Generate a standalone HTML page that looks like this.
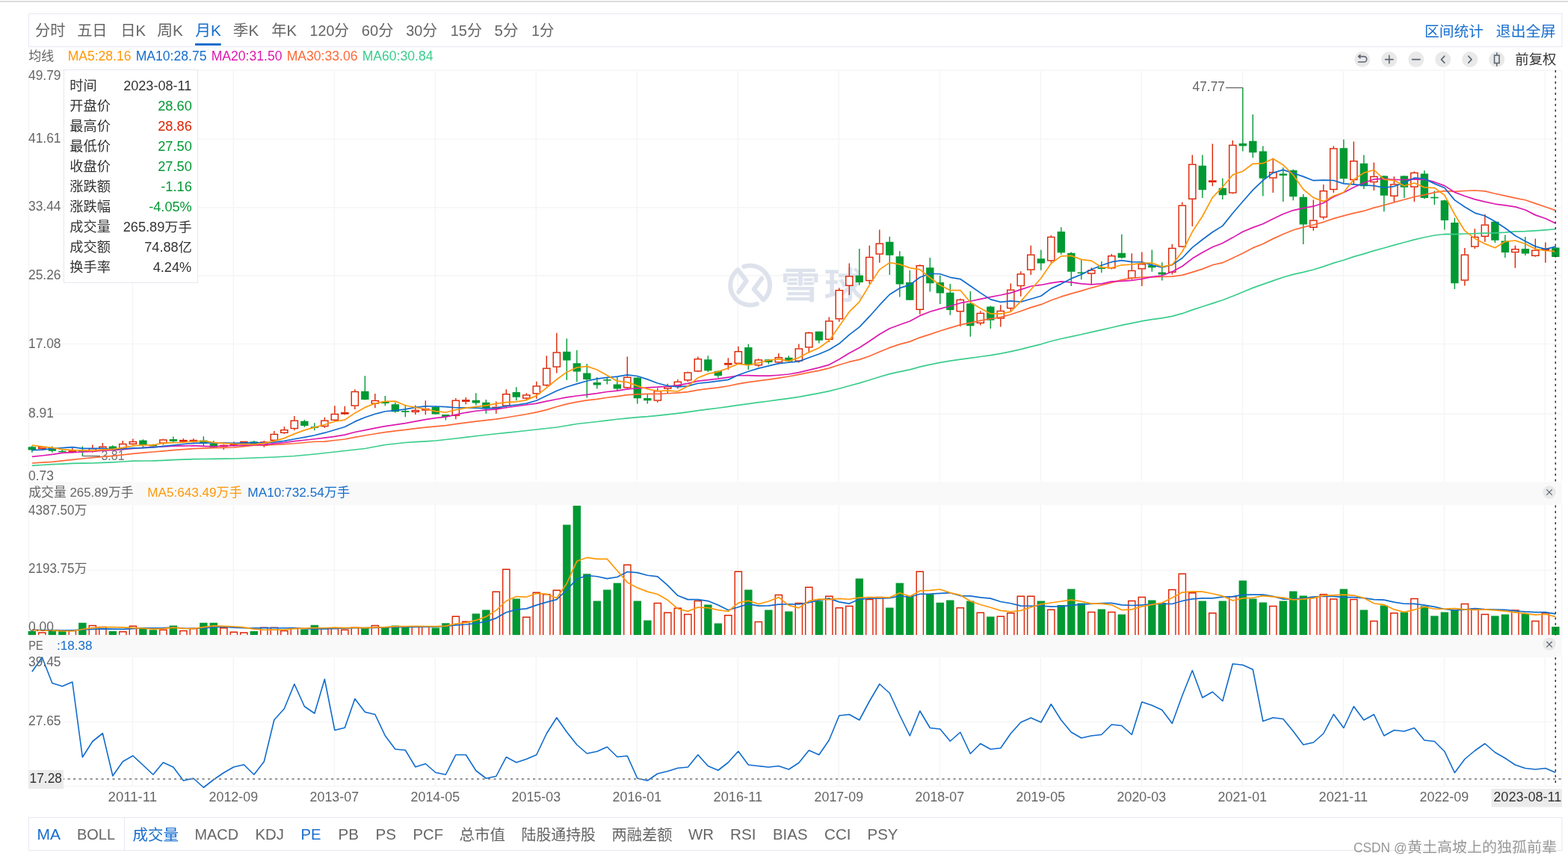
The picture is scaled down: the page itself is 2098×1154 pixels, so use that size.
<!DOCTYPE html>
<html lang="zh-CN"><head><meta charset="utf-8"><title>月K</title>
<style>
html,body{margin:0;padding:0;background:#fff;}
body{width:2098px;height:1154px;position:relative;overflow:hidden;font-family:"Liberation Sans","Noto Sans CJK SC",sans-serif;}
svg text{font-family:"Liberation Sans","Noto Sans CJK SC",sans-serif;}
</style></head><body>
<svg width="2098" height="1154" viewBox="0 0 2098 1154" style="position:absolute;left:0;top:0">
<rect x="38" y="644.9" width="2052" height="31.3" fill="#f9f9f9"/>
<rect x="38" y="851" width="2052" height="29" fill="#f9f9f9"/>
<path d="M38 94.3 H2090 M38 186.25 H2090 M38 277.75 H2090 M38 369 H2090 M38 460.5 H2090 M38 554.1 H2090 M38 763.5 H2090 M38 850.5 H2090 M38 966.5 H2090 M38 1052.5 H2090 M177.35 94 V644 M177.35 676 V850 M177.35 880 V1052 M312.35 94 V644 M312.35 676 V850 M312.35 880 V1052 M447.35 94 V644 M447.35 676 V850 M447.35 880 V1052 M582.35 94 V644 M582.35 676 V850 M582.35 880 V1052 M717.35 94 V644 M717.35 676 V850 M717.35 880 V1052 M852.35 94 V644 M852.35 676 V850 M852.35 880 V1052 M987.35 94 V644 M987.35 676 V850 M987.35 880 V1052 M1122.35 94 V644 M1122.35 676 V850 M1122.35 880 V1052 M1257.35 94 V644 M1257.35 676 V850 M1257.35 880 V1052 M1392.35 94 V644 M1392.35 676 V850 M1392.35 880 V1052 M1527.35 94 V644 M1527.35 676 V850 M1527.35 880 V1052 M1662.35 94 V644 M1662.35 676 V850 M1662.35 880 V1052 M1797.35 94 V644 M1797.35 676 V850 M1797.35 880 V1052 M1932.35 94 V644 M1932.35 676 V850 M1932.35 880 V1052 M2067.35 94 V644 M2067.35 676 V850 M2067.35 880 V1052 M38.4 94 V644 M38.4 676 V850 M38.4 880 V1052 M2089.6 94 V644 M2089.6 676 V850 M2089.6 880 V1052" stroke="#f5f5f5" stroke-width="1.5" fill="none"/>
<g fill="none" stroke="#dde2ec" stroke-width="6" stroke-linecap="round" stroke-linejoin="round"><path d="M988.3 390.8 L998.8 376.1 L987.3 361.2 A26.4 26.4 0 0 0 1012.8 406.7"/><path d="M995.3 356.9 A26.4 26.4 0 0 1 1021.5 401.4 L1008.7 387.2 L1019.2 373"/></g>
<text x="1045" y="398.8" font-size="48" font-weight="500" fill="#dde2ec" stroke="#dde2ec" stroke-width="0.7" textLength="52.5" lengthAdjust="spacingAndGlyphs" font-family="'Liberation Sans','Noto Sans CJK SC',sans-serif">雪</text><text x="1102.8" y="398.8" font-size="48" font-weight="500" fill="#dde2ec" stroke="#dde2ec" stroke-width="0.7" textLength="52.5" lengthAdjust="spacingAndGlyphs" font-family="'Liberation Sans','Noto Sans CJK SC',sans-serif">球</text>
<g><path d="M42.85 597 V605.75" stroke="#009933" stroke-width="1.4"/><rect x="37.65" y="598.25" width="10.4" height="4.25" fill="#009933"/><path d="M56.35 597.5 V598 M56.35 601.25 V602.5" stroke="#dd2200" stroke-width="1.4"/><rect x="51.75" y="598.7" width="9.2" height="1.85" fill="#fff" stroke="#dd2200" stroke-width="1.4"/><path d="M69.85 597.5 V605.75" stroke="#009933" stroke-width="1.4"/><rect x="64.65" y="599" width="10.4" height="4.75" fill="#009933"/><path d="M83.35 601.25 V605.5" stroke="#009933" stroke-width="1.4"/><rect x="78.15" y="603.75" width="10.4" height="1.6" fill="#009933"/><path d="M96.85 600 V603.23 M96.85 606.02 V606.25" stroke="#dd2200" stroke-width="1.4"/><rect x="92.25" y="603.93" width="9.2" height="1.4" fill="#fff" stroke="#dd2200" stroke-width="1.4"/><path d="M110.35 597.5 V610.75" stroke="#009933" stroke-width="1.4"/><rect x="105.15" y="603" width="10.4" height="1.6" fill="#009933"/><path d="M123.85 595.5 V600 M123.85 605 V605.75" stroke="#dd2200" stroke-width="1.4"/><rect x="119.25" y="600.7" width="9.2" height="3.6" fill="#fff" stroke="#dd2200" stroke-width="1.4"/><path d="M137.35 593 V597.5 M137.35 601.25 V602.5" stroke="#dd2200" stroke-width="1.4"/><rect x="132.75" y="598.2" width="9.2" height="2.35" fill="#fff" stroke="#dd2200" stroke-width="1.4"/><path d="M150.85 596.25 V602.5" stroke="#009933" stroke-width="1.4"/><rect x="145.65" y="597.5" width="10.4" height="4.5" fill="#009933"/><path d="M164.35 590 V593.75 M164.35 601.25 V602.5" stroke="#dd2200" stroke-width="1.4"/><rect x="159.75" y="594.45" width="9.2" height="6.1" fill="#fff" stroke="#dd2200" stroke-width="1.4"/><path d="M177.85 587.5 V590.75 M177.85 595 V595.5" stroke="#dd2200" stroke-width="1.4"/><rect x="173.25" y="591.45" width="9.2" height="2.85" fill="#fff" stroke="#dd2200" stroke-width="1.4"/><path d="M191.35 588.25 V598.75" stroke="#009933" stroke-width="1.4"/><rect x="186.15" y="589.5" width="10.4" height="6" fill="#009933"/><path d="M204.85 594.5 V599.5" stroke="#009933" stroke-width="1.4"/><rect x="199.65" y="595.75" width="10.4" height="1.75" fill="#009933"/><path d="M218.35 587.5 V588.25 M218.35 593.75 V595.5" stroke="#dd2200" stroke-width="1.4"/><rect x="213.75" y="588.95" width="9.2" height="4.1" fill="#fff" stroke="#dd2200" stroke-width="1.4"/><path d="M231.85 584.5 V592" stroke="#009933" stroke-width="1.4"/><rect x="226.65" y="588" width="10.4" height="2.75" fill="#009933"/><path d="M245.35 587 V588.85 M245.35 591.65 V592.5" stroke="#dd2200" stroke-width="1.4"/><rect x="240.75" y="589.55" width="9.2" height="1.4" fill="#fff" stroke="#dd2200" stroke-width="1.4"/><path d="M258.85 587 V588.85 M258.85 591.65 V592.5" stroke="#dd2200" stroke-width="1.4"/><rect x="254.25" y="589.55" width="9.2" height="1.4" fill="#fff" stroke="#dd2200" stroke-width="1.4"/><path d="M272.35 584.25 V597" stroke="#009933" stroke-width="1.4"/><rect x="267.15" y="589.5" width="10.4" height="4.25" fill="#009933"/><path d="M285.85 590 V600" stroke="#009933" stroke-width="1.4"/><rect x="280.65" y="593.75" width="10.4" height="5" fill="#009933"/><path d="M299.35 594.5 V595.6 M299.35 598.4 V602" stroke="#dd2200" stroke-width="1.4"/><rect x="294.75" y="596.3" width="9.2" height="1.4" fill="#fff" stroke="#dd2200" stroke-width="1.4"/><path d="M312.85 591.25 V593.6 M312.85 596.4 V597.5" stroke="#dd2200" stroke-width="1.4"/><rect x="308.25" y="594.3" width="9.2" height="1.4" fill="#fff" stroke="#dd2200" stroke-width="1.4"/><path d="M326.35 590.75 V590.73 M326.35 593.52 V593.75" stroke="#dd2200" stroke-width="1.4"/><rect x="321.75" y="591.43" width="9.2" height="1.4" fill="#fff" stroke="#dd2200" stroke-width="1.4"/><path d="M339.85 590 V596.25" stroke="#009933" stroke-width="1.4"/><rect x="334.65" y="591.25" width="10.4" height="3.75" fill="#009933"/><path d="M353.35 590 V591.25 M353.35 597 V598.75" stroke="#dd2200" stroke-width="1.4"/><rect x="348.75" y="591.95" width="9.2" height="4.35" fill="#fff" stroke="#dd2200" stroke-width="1.4"/><path d="M366.85 577 V580.75 M366.85 590 V590.75" stroke="#dd2200" stroke-width="1.4"/><rect x="362.25" y="581.45" width="9.2" height="7.85" fill="#fff" stroke="#dd2200" stroke-width="1.4"/><path d="M380.35 571.25 V575 M380.35 580 V580.75" stroke="#dd2200" stroke-width="1.4"/><rect x="375.75" y="575.7" width="9.2" height="3.6" fill="#fff" stroke="#dd2200" stroke-width="1.4"/><path d="M393.85 557 V562.5 M393.85 574.25 V576.25" stroke="#dd2200" stroke-width="1.4"/><rect x="389.25" y="563.2" width="9.2" height="10.35" fill="#fff" stroke="#dd2200" stroke-width="1.4"/><path d="M407.35 562 V571.75" stroke="#009933" stroke-width="1.4"/><rect x="402.15" y="563.75" width="10.4" height="6.25" fill="#009933"/><path d="M420.85 566.25 V576.25" stroke="#009933" stroke-width="1.4"/><rect x="415.65" y="571.25" width="10.4" height="1.6" fill="#009933"/><path d="M434.35 558.75 V562.5 M434.35 571.25 V573" stroke="#dd2200" stroke-width="1.4"/><rect x="429.75" y="563.2" width="9.2" height="7.35" fill="#fff" stroke="#dd2200" stroke-width="1.4"/><path d="M447.85 543.25 V553.75 M447.85 563 V563.75" stroke="#dd2200" stroke-width="1.4"/><rect x="443.25" y="554.45" width="9.2" height="7.85" fill="#fff" stroke="#dd2200" stroke-width="1.4"/><path d="M461.35 543.75 V551.85 M461.35 554.65 V555.5" stroke="#dd2200" stroke-width="1.4"/><rect x="456.75" y="552.55" width="9.2" height="1.4" fill="#fff" stroke="#dd2200" stroke-width="1.4"/><path d="M474.85 521.25 V523.75 M474.85 543.75 V548" stroke="#dd2200" stroke-width="1.4"/><rect x="470.25" y="524.45" width="9.2" height="18.6" fill="#fff" stroke="#dd2200" stroke-width="1.4"/><path d="M488.35 503.25 V535.5" stroke="#009933" stroke-width="1.4"/><rect x="483.15" y="523.75" width="10.4" height="11.25" fill="#009933"/><path d="M501.85 527 V535.75 M501.85 540.75 V546.25" stroke="#dd2200" stroke-width="1.4"/><rect x="497.25" y="536.45" width="9.2" height="3.6" fill="#fff" stroke="#dd2200" stroke-width="1.4"/><path d="M515.35 530 V543.25" stroke="#009933" stroke-width="1.4"/><rect x="510.15" y="537.5" width="10.4" height="2.5" fill="#009933"/><path d="M528.85 538.75 V552.5" stroke="#009933" stroke-width="1.4"/><rect x="523.65" y="541.25" width="10.4" height="10" fill="#009933"/><path d="M542.35 542.5 V558.25" stroke="#009933" stroke-width="1.4"/><rect x="537.15" y="550" width="10.4" height="1.75" fill="#009933"/><path d="M555.85 542.5 V548.75 M555.85 552 V555" stroke="#dd2200" stroke-width="1.4"/><rect x="551.25" y="549.45" width="9.2" height="1.85" fill="#fff" stroke="#dd2200" stroke-width="1.4"/><path d="M569.35 536.25 V546.85 M569.35 549.65 V555" stroke="#dd2200" stroke-width="1.4"/><rect x="564.75" y="547.55" width="9.2" height="1.4" fill="#fff" stroke="#dd2200" stroke-width="1.4"/><path d="M582.85 543.75 V555" stroke="#009933" stroke-width="1.4"/><rect x="577.65" y="545" width="10.4" height="9.5" fill="#009933"/><path d="M596.35 555 V562.5" stroke="#009933" stroke-width="1.4"/><rect x="591.15" y="555" width="10.4" height="3" fill="#009933"/><path d="M609.85 533 V535.5 M609.85 557 V561.25" stroke="#dd2200" stroke-width="1.4"/><rect x="605.25" y="536.2" width="9.2" height="20.1" fill="#fff" stroke="#dd2200" stroke-width="1.4"/><path d="M623.35 532 V535.1 M623.35 537.9 V541.25" stroke="#dd2200" stroke-width="1.4"/><rect x="618.75" y="535.8" width="9.2" height="1.4" fill="#fff" stroke="#dd2200" stroke-width="1.4"/><path d="M636.85 526.25 V542.5" stroke="#009933" stroke-width="1.4"/><rect x="631.65" y="535.75" width="10.4" height="3.75" fill="#009933"/><path d="M650.35 535 V553.75" stroke="#009933" stroke-width="1.4"/><rect x="645.15" y="538.75" width="10.4" height="7.5" fill="#009933"/><path d="M663.85 537.5 V544.6 M663.85 547.4 V553.75" stroke="#dd2200" stroke-width="1.4"/><rect x="659.25" y="545.3" width="9.2" height="1.4" fill="#fff" stroke="#dd2200" stroke-width="1.4"/><path d="M677.35 521.25 V527 M677.35 543.75 V545" stroke="#dd2200" stroke-width="1.4"/><rect x="672.75" y="527.7" width="9.2" height="15.35" fill="#fff" stroke="#dd2200" stroke-width="1.4"/><path d="M690.85 518.25 V536.25" stroke="#009933" stroke-width="1.4"/><rect x="685.65" y="525" width="10.4" height="6.75" fill="#009933"/><path d="M704.35 526.25 V528.25 M704.35 533.75 V535" stroke="#dd2200" stroke-width="1.4"/><rect x="699.75" y="528.95" width="9.2" height="4.1" fill="#fff" stroke="#dd2200" stroke-width="1.4"/><path d="M717.85 510.75 V516.25 M717.85 527.5 V533.75" stroke="#dd2200" stroke-width="1.4"/><rect x="713.25" y="516.95" width="9.2" height="9.85" fill="#fff" stroke="#dd2200" stroke-width="1.4"/><path d="M731.35 476.25 V492.5 M731.35 516.25 V517.5" stroke="#dd2200" stroke-width="1.4"/><rect x="726.75" y="493.2" width="9.2" height="22.35" fill="#fff" stroke="#dd2200" stroke-width="1.4"/><path d="M744.85 445.75 V471.25 M744.85 491.75 V499.5" stroke="#dd2200" stroke-width="1.4"/><rect x="740.25" y="471.95" width="9.2" height="19.1" fill="#fff" stroke="#dd2200" stroke-width="1.4"/><path d="M758.35 453.25 V508.75" stroke="#009933" stroke-width="1.4"/><rect x="753.15" y="470.75" width="10.4" height="11.75" fill="#009933"/><path d="M771.85 468.75 V511.25" stroke="#009933" stroke-width="1.4"/><rect x="766.65" y="486.25" width="10.4" height="11.25" fill="#009933"/><path d="M785.35 487 V532.5" stroke="#009933" stroke-width="1.4"/><rect x="780.15" y="499.5" width="10.4" height="8.5" fill="#009933"/><path d="M798.85 505 V520.5" stroke="#009933" stroke-width="1.4"/><rect x="793.65" y="512" width="10.4" height="3.5" fill="#009933"/><path d="M812.35 505 V514.5" stroke="#009933" stroke-width="1.4"/><rect x="807.15" y="508" width="10.4" height="1.6" fill="#009933"/><path d="M825.85 505 V523" stroke="#009933" stroke-width="1.4"/><rect x="820.65" y="514.5" width="10.4" height="6" fill="#009933"/><path d="M839.35 477.5 V504.5 M839.35 519.5 V521.25" stroke="#dd2200" stroke-width="1.4"/><rect x="834.75" y="505.2" width="9.2" height="13.6" fill="#fff" stroke="#dd2200" stroke-width="1.4"/><path d="M852.85 505 V540.5" stroke="#009933" stroke-width="1.4"/><rect x="847.65" y="505.5" width="10.4" height="27.75" fill="#009933"/><path d="M866.35 528 V540.5" stroke="#009933" stroke-width="1.4"/><rect x="861.15" y="533" width="10.4" height="3.25" fill="#009933"/><path d="M879.85 519.5 V523 M879.85 536.75 V538.75" stroke="#dd2200" stroke-width="1.4"/><rect x="875.25" y="523.7" width="9.2" height="12.35" fill="#fff" stroke="#dd2200" stroke-width="1.4"/><path d="M893.35 513.75 V517 M893.35 520.75 V526.25" stroke="#dd2200" stroke-width="1.4"/><rect x="888.75" y="517.7" width="9.2" height="2.35" fill="#fff" stroke="#dd2200" stroke-width="1.4"/><path d="M906.85 508 V510.5 M906.85 517 V520.5" stroke="#dd2200" stroke-width="1.4"/><rect x="902.25" y="511.2" width="9.2" height="5.1" fill="#fff" stroke="#dd2200" stroke-width="1.4"/><path d="M920.35 497.5 V498.25 M920.35 509.5 V511.25" stroke="#dd2200" stroke-width="1.4"/><rect x="915.75" y="498.95" width="9.2" height="9.85" fill="#fff" stroke="#dd2200" stroke-width="1.4"/><path d="M933.85 477.5 V480 M933.85 497.5 V498.25" stroke="#dd2200" stroke-width="1.4"/><rect x="929.25" y="480.7" width="9.2" height="16.1" fill="#fff" stroke="#dd2200" stroke-width="1.4"/><path d="M947.35 476.25 V498" stroke="#009933" stroke-width="1.4"/><rect x="942.15" y="481.25" width="10.4" height="15" fill="#009933"/><path d="M960.85 496.25 V505.75" stroke="#009933" stroke-width="1.4"/><rect x="955.65" y="496.75" width="10.4" height="6.25" fill="#009933"/><path d="M974.35 479.25 V485.85 M974.35 488.65 V495" stroke="#dd2200" stroke-width="1.4"/><rect x="969.75" y="486.55" width="9.2" height="1.4" fill="#fff" stroke="#dd2200" stroke-width="1.4"/><path d="M987.85 463.75 V470 M987.85 487 V488" stroke="#dd2200" stroke-width="1.4"/><rect x="983.25" y="470.7" width="9.2" height="15.6" fill="#fff" stroke="#dd2200" stroke-width="1.4"/><path d="M1001.35 460.75 V495" stroke="#009933" stroke-width="1.4"/><rect x="996.15" y="465" width="10.4" height="23.75" fill="#009933"/><path d="M1014.85 480 V481.25 M1014.85 489.5 V491.25" stroke="#dd2200" stroke-width="1.4"/><rect x="1010.25" y="481.95" width="9.2" height="6.85" fill="#fff" stroke="#dd2200" stroke-width="1.4"/><path d="M1028.35 480.75 V487.5" stroke="#009933" stroke-width="1.4"/><rect x="1023.15" y="481.25" width="10.4" height="3.75" fill="#009933"/><path d="M1041.85 473 V478 M1041.85 485.5 V487.5" stroke="#dd2200" stroke-width="1.4"/><rect x="1037.25" y="478.7" width="9.2" height="6.1" fill="#fff" stroke="#dd2200" stroke-width="1.4"/><path d="M1055.35 476.25 V485" stroke="#009933" stroke-width="1.4"/><rect x="1050.15" y="478.75" width="10.4" height="5" fill="#009933"/><path d="M1068.85 460.5 V466.25 M1068.85 483.75 V485.5" stroke="#dd2200" stroke-width="1.4"/><rect x="1064.25" y="466.95" width="9.2" height="16.1" fill="#fff" stroke="#dd2200" stroke-width="1.4"/><path d="M1082.35 444.25 V445 M1082.35 465.5 V472.5" stroke="#dd2200" stroke-width="1.4"/><rect x="1077.75" y="445.7" width="9.2" height="19.1" fill="#fff" stroke="#dd2200" stroke-width="1.4"/><path d="M1095.85 443.75 V459.5" stroke="#009933" stroke-width="1.4"/><rect x="1090.65" y="443.75" width="10.4" height="12" fill="#009933"/><path d="M1109.35 424.5 V429.25 M1109.35 455 V458" stroke="#dd2200" stroke-width="1.4"/><rect x="1104.75" y="429.95" width="9.2" height="24.35" fill="#fff" stroke="#dd2200" stroke-width="1.4"/><path d="M1122.85 385.5 V388 M1122.85 427.5 V430.75" stroke="#dd2200" stroke-width="1.4"/><rect x="1118.25" y="388.7" width="9.2" height="38.1" fill="#fff" stroke="#dd2200" stroke-width="1.4"/><path d="M1136.35 352.5 V369.25 M1136.35 383 V395" stroke="#dd2200" stroke-width="1.4"/><rect x="1131.75" y="369.95" width="9.2" height="12.35" fill="#fff" stroke="#dd2200" stroke-width="1.4"/><path d="M1149.85 333 V381.75" stroke="#009933" stroke-width="1.4"/><rect x="1144.65" y="368.75" width="10.4" height="9.25" fill="#009933"/><path d="M1163.35 328.75 V343.75 M1163.35 376.25 V380" stroke="#dd2200" stroke-width="1.4"/><rect x="1158.75" y="344.45" width="9.2" height="31.1" fill="#fff" stroke="#dd2200" stroke-width="1.4"/><path d="M1176.85 307.5 V325.5 M1176.85 340.75 V351.75" stroke="#dd2200" stroke-width="1.4"/><rect x="1172.25" y="326.2" width="9.2" height="13.85" fill="#fff" stroke="#dd2200" stroke-width="1.4"/><path d="M1190.35 316.75 V368" stroke="#009933" stroke-width="1.4"/><rect x="1185.15" y="323.75" width="10.4" height="18" fill="#009933"/><path d="M1203.85 336.25 V397.5" stroke="#009933" stroke-width="1.4"/><rect x="1198.65" y="343.25" width="10.4" height="37.25" fill="#009933"/><path d="M1217.35 362 V401.75" stroke="#009933" stroke-width="1.4"/><rect x="1212.15" y="378" width="10.4" height="23.75" fill="#009933"/><path d="M1230.85 354.25 V355 M1230.85 415 V420.75" stroke="#dd2200" stroke-width="1.4"/><rect x="1226.25" y="355.7" width="9.2" height="58.6" fill="#fff" stroke="#dd2200" stroke-width="1.4"/><path d="M1244.35 345 V390.5" stroke="#009933" stroke-width="1.4"/><rect x="1239.15" y="358.25" width="10.4" height="21" fill="#009933"/><path d="M1257.85 368.75 V407" stroke="#009933" stroke-width="1.4"/><rect x="1252.65" y="378" width="10.4" height="14.5" fill="#009933"/><path d="M1271.35 380 V421.75" stroke="#009933" stroke-width="1.4"/><rect x="1266.15" y="391.75" width="10.4" height="23.25" fill="#009933"/><path d="M1284.85 399.5 V400.75 M1284.85 417.5 V437" stroke="#dd2200" stroke-width="1.4"/><rect x="1280.25" y="401.45" width="9.2" height="15.35" fill="#fff" stroke="#dd2200" stroke-width="1.4"/><path d="M1298.35 390 V450.75" stroke="#009933" stroke-width="1.4"/><rect x="1293.15" y="406.25" width="10.4" height="30" fill="#009933"/><path d="M1311.85 416.25 V418.75 M1311.85 433 V435.5" stroke="#dd2200" stroke-width="1.4"/><rect x="1307.25" y="419.45" width="9.2" height="12.85" fill="#fff" stroke="#dd2200" stroke-width="1.4"/><path d="M1325.35 409.5 V440" stroke="#009933" stroke-width="1.4"/><rect x="1320.15" y="410.5" width="10.4" height="18.25" fill="#009933"/><path d="M1338.85 408.25 V415.75 M1338.85 426.75 V437.5" stroke="#dd2200" stroke-width="1.4"/><rect x="1334.25" y="416.45" width="9.2" height="9.6" fill="#fff" stroke="#dd2200" stroke-width="1.4"/><path d="M1352.35 379.5 V387.5 M1352.35 413.25 V417" stroke="#dd2200" stroke-width="1.4"/><rect x="1347.75" y="388.2" width="9.2" height="24.35" fill="#fff" stroke="#dd2200" stroke-width="1.4"/><path d="M1365.85 363.25 V366.25 M1365.85 383.25 V396.75" stroke="#dd2200" stroke-width="1.4"/><rect x="1361.25" y="366.95" width="9.2" height="15.6" fill="#fff" stroke="#dd2200" stroke-width="1.4"/><path d="M1379.35 328.75 V340.5 M1379.35 361.75 V368" stroke="#dd2200" stroke-width="1.4"/><rect x="1374.75" y="341.2" width="9.2" height="19.85" fill="#fff" stroke="#dd2200" stroke-width="1.4"/><path d="M1392.85 334.5 V361.75" stroke="#009933" stroke-width="1.4"/><rect x="1387.65" y="346.25" width="10.4" height="6.25" fill="#009933"/><path d="M1406.35 315 V316.75 M1406.35 349.5 V351.75" stroke="#dd2200" stroke-width="1.4"/><rect x="1401.75" y="317.45" width="9.2" height="31.35" fill="#fff" stroke="#dd2200" stroke-width="1.4"/><path d="M1419.85 304.25 V340.75" stroke="#009933" stroke-width="1.4"/><rect x="1414.65" y="310" width="10.4" height="28.25" fill="#009933"/><path d="M1433.35 337.5 V383" stroke="#009933" stroke-width="1.4"/><rect x="1428.15" y="338.75" width="10.4" height="25" fill="#009933"/><path d="M1446.85 347 V374.25" stroke="#009933" stroke-width="1.4"/><rect x="1441.65" y="364.5" width="10.4" height="1.6" fill="#009933"/><path d="M1460.35 358.25 V361.25 M1460.35 366.75 V380.75" stroke="#dd2200" stroke-width="1.4"/><rect x="1455.75" y="361.95" width="9.2" height="4.1" fill="#fff" stroke="#dd2200" stroke-width="1.4"/><path d="M1473.85 350 V365" stroke="#009933" stroke-width="1.4"/><rect x="1468.65" y="358.25" width="10.4" height="1.75" fill="#009933"/><path d="M1487.35 340 V342 M1487.35 359.5 V360.5" stroke="#dd2200" stroke-width="1.4"/><rect x="1482.75" y="342.7" width="9.2" height="16.1" fill="#fff" stroke="#dd2200" stroke-width="1.4"/><path d="M1500.85 313.75 V346.25" stroke="#009933" stroke-width="1.4"/><rect x="1495.65" y="338.75" width="10.4" height="6.25" fill="#009933"/><path d="M1514.35 339.25 V361.75 M1514.35 373 V374.25" stroke="#dd2200" stroke-width="1.4"/><rect x="1509.75" y="362.45" width="9.2" height="9.85" fill="#fff" stroke="#dd2200" stroke-width="1.4"/><path d="M1527.85 337.5 V353 M1527.85 360.5 V383" stroke="#dd2200" stroke-width="1.4"/><rect x="1523.25" y="353.7" width="9.2" height="6.1" fill="#fff" stroke="#dd2200" stroke-width="1.4"/><path d="M1541.35 334.5 V363.75" stroke="#009933" stroke-width="1.4"/><rect x="1536.15" y="355" width="10.4" height="3.25" fill="#009933"/><path d="M1554.85 351.25 V375.5" stroke="#009933" stroke-width="1.4"/><rect x="1549.65" y="364.5" width="10.4" height="3" fill="#009933"/><path d="M1568.35 326.75 V331.75 M1568.35 365 V367.5" stroke="#dd2200" stroke-width="1.4"/><rect x="1563.75" y="332.45" width="9.2" height="31.85" fill="#fff" stroke="#dd2200" stroke-width="1.4"/><path d="M1581.85 270.75 V274.5 M1581.85 330.75 V331.25" stroke="#dd2200" stroke-width="1.4"/><rect x="1577.25" y="275.2" width="9.2" height="54.85" fill="#fff" stroke="#dd2200" stroke-width="1.4"/><path d="M1595.35 207.5 V219.5 M1595.35 267 V303" stroke="#dd2200" stroke-width="1.4"/><rect x="1590.75" y="220.2" width="9.2" height="46.1" fill="#fff" stroke="#dd2200" stroke-width="1.4"/><path d="M1608.85 207.5 V265" stroke="#009933" stroke-width="1.4"/><rect x="1603.65" y="221.75" width="10.4" height="32.5" fill="#009933"/><path d="M1622.35 192.5 V241.35 M1622.35 244.15 V249.25" stroke="#dd2200" stroke-width="1.4"/><rect x="1617.75" y="242.05" width="9.2" height="1.4" fill="#fff" stroke="#dd2200" stroke-width="1.4"/><path d="M1635.85 238.75 V267" stroke="#009933" stroke-width="1.4"/><rect x="1630.65" y="251.75" width="10.4" height="9.5" fill="#009933"/><path d="M1649.35 188 V193.75 M1649.35 258.75 V259.5" stroke="#dd2200" stroke-width="1.4"/><rect x="1644.75" y="194.45" width="9.2" height="63.6" fill="#fff" stroke="#dd2200" stroke-width="1.4"/><path d="M1662.85 117 V202.5" stroke="#009933" stroke-width="1.4"/><rect x="1657.65" y="192" width="10.4" height="3.5" fill="#009933"/><path d="M1676.35 153.25 V211.25" stroke="#009933" stroke-width="1.4"/><rect x="1671.15" y="188.75" width="10.4" height="15.5" fill="#009933"/><path d="M1689.85 195.5 V262.5" stroke="#009933" stroke-width="1.4"/><rect x="1684.65" y="202.5" width="10.4" height="36.25" fill="#009933"/><path d="M1703.35 211.75 V230 M1703.35 238.75 V258" stroke="#dd2200" stroke-width="1.4"/><rect x="1698.75" y="230.7" width="9.2" height="7.35" fill="#fff" stroke="#dd2200" stroke-width="1.4"/><path d="M1716.85 224.25 V270" stroke="#009933" stroke-width="1.4"/><rect x="1711.65" y="232.5" width="10.4" height="2.5" fill="#009933"/><path d="M1730.35 226.75 V268.25" stroke="#009933" stroke-width="1.4"/><rect x="1725.15" y="228" width="10.4" height="35.25" fill="#009933"/><path d="M1743.85 260 V327" stroke="#009933" stroke-width="1.4"/><rect x="1738.65" y="263.75" width="10.4" height="36.75" fill="#009933"/><path d="M1757.35 267.5 V294.5 M1757.35 305 V308.75" stroke="#dd2200" stroke-width="1.4"/><rect x="1752.75" y="295.2" width="9.2" height="9.1" fill="#fff" stroke="#dd2200" stroke-width="1.4"/><path d="M1770.85 247 V255 M1770.85 291.25 V293.75" stroke="#dd2200" stroke-width="1.4"/><rect x="1766.25" y="255.7" width="9.2" height="34.85" fill="#fff" stroke="#dd2200" stroke-width="1.4"/><path d="M1784.35 195.5 V198.25 M1784.35 254.25 V258" stroke="#dd2200" stroke-width="1.4"/><rect x="1779.75" y="198.95" width="9.2" height="54.6" fill="#fff" stroke="#dd2200" stroke-width="1.4"/><path d="M1797.85 186.75 V245" stroke="#009933" stroke-width="1.4"/><rect x="1792.65" y="198.25" width="10.4" height="41" fill="#009933"/><path d="M1811.35 189.5 V215 M1811.35 241.25 V247.5" stroke="#dd2200" stroke-width="1.4"/><rect x="1806.75" y="215.7" width="9.2" height="24.85" fill="#fff" stroke="#dd2200" stroke-width="1.4"/><path d="M1824.85 207.5 V253" stroke="#009933" stroke-width="1.4"/><rect x="1819.65" y="218.75" width="10.4" height="30.5" fill="#009933"/><path d="M1838.35 217.5 V235.75 M1838.35 244.25 V255" stroke="#dd2200" stroke-width="1.4"/><rect x="1833.75" y="236.45" width="9.2" height="7.1" fill="#fff" stroke="#dd2200" stroke-width="1.4"/><path d="M1851.85 235 V283.25" stroke="#009933" stroke-width="1.4"/><rect x="1846.65" y="235.5" width="10.4" height="26.25" fill="#009933"/><path d="M1865.35 236.25 V246.25 M1865.35 263 V270" stroke="#dd2200" stroke-width="1.4"/><rect x="1860.75" y="246.95" width="9.2" height="15.35" fill="#fff" stroke="#dd2200" stroke-width="1.4"/><path d="M1878.85 235 V265" stroke="#009933" stroke-width="1.4"/><rect x="1873.65" y="235.5" width="10.4" height="15.25" fill="#009933"/><path d="M1892.35 229.5 V230.75 M1892.35 250.75 V270" stroke="#dd2200" stroke-width="1.4"/><rect x="1887.75" y="231.45" width="9.2" height="18.6" fill="#fff" stroke="#dd2200" stroke-width="1.4"/><path d="M1905.85 228.25 V266.25" stroke="#009933" stroke-width="1.4"/><rect x="1900.65" y="232.5" width="10.4" height="32.5" fill="#009933"/><path d="M1919.35 255.5 V274.25" stroke="#009933" stroke-width="1.4"/><rect x="1914.15" y="263.75" width="10.4" height="1.6" fill="#009933"/><path d="M1932.85 267.5 V307.5" stroke="#009933" stroke-width="1.4"/><rect x="1927.65" y="268.25" width="10.4" height="26.75" fill="#009933"/><path d="M1946.35 291.75 V387" stroke="#009933" stroke-width="1.4"/><rect x="1941.15" y="298" width="10.4" height="81.25" fill="#009933"/><path d="M1959.85 332 V340.5 M1959.85 375.75 V382.5" stroke="#dd2200" stroke-width="1.4"/><rect x="1955.25" y="341.2" width="9.2" height="33.85" fill="#fff" stroke="#dd2200" stroke-width="1.4"/><path d="M1973.35 306.25 V316.75 M1973.35 330.75 V333" stroke="#dd2200" stroke-width="1.4"/><rect x="1968.75" y="317.45" width="9.2" height="12.6" fill="#fff" stroke="#dd2200" stroke-width="1.4"/><path d="M1986.85 287 V300.5 M1986.85 317 V323.75" stroke="#dd2200" stroke-width="1.4"/><rect x="1982.25" y="301.2" width="9.2" height="15.1" fill="#fff" stroke="#dd2200" stroke-width="1.4"/><path d="M2000.35 296.25 V325" stroke="#009933" stroke-width="1.4"/><rect x="1995.15" y="296.75" width="10.4" height="25" fill="#009933"/><path d="M2013.85 314.5 V345" stroke="#009933" stroke-width="1.4"/><rect x="2008.65" y="322.5" width="10.4" height="15.5" fill="#009933"/><path d="M2027.35 328.75 V333 M2027.35 338.25 V358.75" stroke="#dd2200" stroke-width="1.4"/><rect x="2022.75" y="333.7" width="9.2" height="3.85" fill="#fff" stroke="#dd2200" stroke-width="1.4"/><path d="M2040.85 317 V342" stroke="#009933" stroke-width="1.4"/><rect x="2035.65" y="333" width="10.4" height="6.5" fill="#009933"/><path d="M2054.35 319.5 V334.5 M2054.35 343 V343.75" stroke="#dd2200" stroke-width="1.4"/><rect x="2049.75" y="335.2" width="9.2" height="7.1" fill="#fff" stroke="#dd2200" stroke-width="1.4"/><path d="M2067.85 324.5 V332.35 M2067.85 335.15 V351.75" stroke="#dd2200" stroke-width="1.4"/><rect x="2063.25" y="333.05" width="9.2" height="1.4" fill="#fff" stroke="#dd2200" stroke-width="1.4"/><path d="M2081.35 330 V344" stroke="#009933" stroke-width="1.4"/><rect x="2076.15" y="331.5" width="10.4" height="12.5" fill="#009933"/></g>
<path d="M1640 117.5 H1662.5" stroke="#666" stroke-width="1.3" fill="none"/>
<text x="1595.5" y="121.8" font-size="17.5" fill="#666" textLength="43.5" lengthAdjust="spacingAndGlyphs" font-family="'Liberation Sans','Noto Sans CJK SC',sans-serif">47.77</text>
<path d="M110 610.5 H134" stroke="#666" stroke-width="1.3" fill="none"/>
<text x="135.5" y="615.5" font-size="17.5" fill="#777" textLength="31" lengthAdjust="spacingAndGlyphs" font-family="'Liberation Sans','Noto Sans CJK SC',sans-serif">3.81</text>
<polyline points="42.85,623.29 56.35,622.5 69.85,621.71 83.35,621.07 96.85,620.43 110.35,620.21 123.85,620 137.35,619.43 150.85,618.86 164.35,618 177.85,617.14 191.35,617 204.85,616.86 218.35,616.29 231.85,615.71 245.35,615.21 258.85,614.71 272.35,614.5 285.85,614.29 299.35,614.14 312.85,614 326.35,613.5 339.85,613 353.35,612.5 366.85,612 380.35,611.25 393.85,610.5 407.35,609.25 420.85,608 434.35,606.5 447.85,605 461.35,603.5 474.85,602 488.35,600.5 501.85,598 515.35,595.5 528.85,594 542.35,592.5 555.85,591.67 569.35,590.83 582.85,590 596.35,588.5 609.85,587 623.35,585.38 636.85,583.75 650.35,582.25 663.85,580.75 677.35,579.38 690.85,578 704.35,576.5 717.85,575 731.35,573.5 744.85,572 758.35,569.75 771.85,567.5 785.35,566 798.85,564.5 812.35,562.88 825.85,561.25 839.35,559.88 852.85,558.72 866.35,557.69 879.85,556.35 893.35,554.88 906.85,553.33 920.35,551.56 933.85,549.56 947.35,547.88 960.85,546.23 974.35,544.43 987.85,542.42 1001.35,540.64 1014.85,538.7 1028.35,536.98 1041.85,535.1 1055.35,533.35 1068.85,531.3 1082.35,528.82 1095.85,526.43 1109.35,523.66 1122.85,520.23 1136.35,516.53 1149.85,512.91 1163.35,508.79 1176.85,504.53 1190.35,500.65 1203.85,497.61 1217.35,494.81 1230.85,491.18 1244.35,488.13 1257.85,485.44 1271.35,483.16 1284.85,481.11 1298.35,479.46 1311.85,477.51 1325.35,475.66 1338.85,473.4 1352.35,470.66 1365.85,467.62 1379.35,464.18 1392.85,460.81 1406.35,456.79 1419.85,453.5 1433.35,450.64 1446.85,447.75 1460.35,444.66 1473.85,441.58 1487.35,438.5 1500.85,435.38 1514.35,432.61 1527.85,429.89 1541.35,427.65 1554.85,425.92 1568.35,423.41 1581.85,419.69 1595.35,414.88 1608.85,410.53 1622.35,406.07 1635.85,401.75 1649.35,396.57 1662.85,390.94 1676.35,385.4 1689.85,380.67 1703.35,375.88 1716.85,371.29 1730.35,367.38 1743.85,364.38 1757.35,361.02 1770.85,356.89 1784.35,352.09 1797.85,348.24 1811.35,343.68 1824.85,339.81 1838.35,335.66 1851.85,332.05 1865.35,328.1 1878.85,324.5 1892.35,320.93 1905.85,317.75 1919.35,315.02 1932.85,313.47 1946.35,313.63 1959.85,313.01 1973.35,312.56 1986.85,312.14 2000.35,311.81 2013.85,311.1 2027.35,309.95 2040.85,309.7 2054.35,308.95 2067.85,307.95 2081.35,306.77" fill="none" stroke="#3acd8c" stroke-width="1.7" stroke-linejoin="round"/>
<polyline points="42.85,620 56.35,619.14 69.85,618.29 83.35,616.86 96.85,615.43 110.35,614 123.85,612.57 137.35,611.43 150.85,610.29 164.35,608.86 177.85,607.43 191.35,606.21 204.85,605 218.35,603.79 231.85,602.57 245.35,601.64 258.85,600.71 272.35,600.21 285.85,599.71 299.35,599.36 312.85,599 326.35,597.62 339.85,596.25 353.35,595.88 366.85,595.5 380.35,594.62 393.85,593.75 407.35,592.5 420.85,591.25 434.35,591.14 447.85,589.52 461.35,587.98 474.85,585.32 488.35,582.98 501.85,580.72 515.35,578.58 528.85,576.96 542.35,575.43 555.85,573.66 569.35,572.1 582.85,570.89 596.35,569.64 609.85,567.58 623.35,565.82 636.85,564.11 650.35,562.67 663.85,561.2 677.35,558.98 690.85,556.74 704.35,554.49 717.85,551.91 731.35,548.62 744.85,544.49 758.35,540.87 771.85,538.09 785.35,535.86 798.85,534.29 812.35,532.27 825.85,530.54 839.35,528.61 852.85,527.92 866.35,527.4 879.85,527.38 893.35,526.77 906.85,525.93 920.35,524.54 933.85,522.17 947.35,520.32 960.85,518.79 974.35,516.77 987.85,513.95 1001.35,511.64 1014.85,509.83 1028.35,508.15 1041.85,506.1 1055.35,504.02 1068.85,501.39 1082.35,498.66 1095.85,496.12 1109.35,492.82 1122.85,488.55 1136.35,484.44 1149.85,481.33 1163.35,476.71 1176.85,470.98 1190.35,465.43 1203.85,460.93 1217.35,457.34 1230.85,451.82 1244.35,447.65 1257.85,442.96 1271.35,438.92 1284.85,434.84 1298.35,432.15 1311.85,429.09 1325.35,426.77 1338.85,424.63 1352.35,421.01 1365.85,416.45 1379.35,411.59 1392.85,407.68 1406.35,401.94 1419.85,397.18 1433.35,393.13 1446.85,389.39 1460.35,385.31 1473.85,381.77 1487.35,378.33 1500.85,374.64 1514.35,372.39 1527.85,371.23 1541.35,370.86 1554.85,370.51 1568.35,370.11 1581.85,368.41 1595.35,364.33 1608.85,360.12 1622.35,354.79 1635.85,351.67 1649.35,345.48 1662.85,338.92 1676.35,331.89 1689.85,326.49 1703.35,319.62 1716.85,313.49 1730.35,307.98 1743.85,304.13 1757.35,301.03 1770.85,297.32 1784.35,292.58 1797.85,288.81 1811.35,285.42 1824.85,282.45 1838.35,278.18 1851.85,274.72 1865.35,270.88 1878.85,267.24 1892.35,263.53 1905.85,260.87 1919.35,257.64 1932.85,255.71 1946.35,256.41 1959.85,255.51 1973.35,255.01 1986.85,255.88 2000.35,259.28 2013.85,262.07 2027.35,265.12 2040.85,267.73 2054.35,272.42 2067.85,276.98 2081.35,281.64" fill="none" stroke="#ff6835" stroke-width="1.7" stroke-linejoin="round"/>
<polyline points="42.85,611.43 56.35,610 69.85,608.29 83.35,606.43 96.85,605.71 110.35,605 123.85,604.29 137.35,603.14 150.85,602.57 164.35,601.71 177.85,600.29 191.35,599.43 204.85,598.57 218.35,597.86 231.85,597.14 245.35,596.93 258.85,596.71 272.35,597.29 285.85,597.86 299.35,596.99 312.85,596.55 326.35,596.21 339.85,595.77 353.35,595.09 366.85,593.94 380.35,592.49 393.85,590.61 407.35,589.24 420.85,587.76 434.35,586.2 447.85,584.35 461.35,582.17 474.85,578.49 488.35,575.83 501.85,573.08 515.35,570.61 528.85,568.71 542.35,566.61 555.85,564.11 569.35,561.67 582.85,559.71 596.35,558.05 609.85,555.08 623.35,552.29 636.85,550.23 650.35,548.79 663.85,547.91 677.35,545.76 690.85,543.73 704.35,542.01 717.85,540.14 731.35,537.16 744.85,534.54 758.35,531.91 771.85,530 785.35,528.4 798.85,526.61 812.35,524.5 825.85,523.09 839.35,520.96 852.85,519.9 866.35,518.81 879.85,518.19 893.35,517.26 906.85,515.81 920.35,513.41 933.85,510.16 947.35,508.62 960.85,507.19 974.35,505.09 987.85,502.77 1001.35,502.59 1014.85,503.09 1028.35,503.21 1041.85,502.24 1055.35,501.02 1068.85,498.56 1082.35,495.34 1095.85,492.1 1109.35,488.34 1122.85,481.07 1136.35,472.73 1149.85,465.48 1163.35,456.81 1176.85,447.56 1190.35,439.74 1203.85,434.76 1217.35,430.04 1230.85,422.64 1244.35,417.29 1257.85,413.41 1271.35,409.73 1284.85,405.7 1298.35,403.26 1311.85,400.3 1325.35,397.55 1338.85,395.02 1352.35,392.15 1365.85,387.68 1379.35,383.24 1392.85,381.46 1406.35,378.84 1419.85,376.85 1433.35,377.85 1446.85,379.86 1460.35,380.84 1473.85,379.81 1487.35,376.82 1500.85,376.32 1514.35,375.45 1527.85,373.48 1541.35,370.64 1554.85,368.98 1568.35,363.75 1581.85,356.54 1595.35,346.07 1608.85,338 1622.35,330.71 1635.85,325.46 1649.35,318.12 1662.85,310.27 1676.35,304.65 1689.85,299.68 1703.35,292.99 1716.85,286.45 1730.35,281.55 1743.85,278.57 1757.35,276.2 1770.85,271.7 1784.35,263.52 1797.85,257.84 1811.35,250.68 1824.85,244.76 1838.35,239.96 1851.85,239.32 1865.35,240.66 1878.85,240.49 1892.35,239.94 1905.85,240.12 1919.35,243.69 1932.85,248.66 1946.35,257.41 1959.85,262.5 1973.35,266.84 1986.85,270.11 2000.35,273.04 2013.85,274.91 2027.35,276.84 2040.85,281.06 2054.35,287.88 2067.85,292.54 2081.35,298.99" fill="none" stroke="#dd18ae" stroke-width="1.7" stroke-linejoin="round"/>
<polyline points="42.85,602.57 56.35,602.14 69.85,600.71 83.35,599.71 96.85,598.57 110.35,600.29 123.85,600.29 137.35,600.29 150.85,601.71 164.35,601.02 177.85,599.85 191.35,599.6 204.85,598.98 218.35,597.3 231.85,596 245.35,594.52 258.85,593.45 272.35,593.08 285.85,592.75 299.35,592.95 312.85,593.25 326.35,592.83 339.85,592.58 353.35,592.88 366.85,591.88 380.35,590.45 393.85,587.77 407.35,585.4 420.85,582.77 434.35,579.45 447.85,575.45 461.35,571.52 474.85,564.4 488.35,558.77 501.85,554.27 515.35,550.77 528.85,549.65 542.35,547.83 555.85,545.45 569.35,543.9 582.85,543.98 596.35,544.58 609.85,545.75 623.35,545.8 636.85,546.17 650.35,546.8 663.85,546.17 677.35,543.7 690.85,542 704.35,540.12 717.85,536.3 731.35,529.75 744.85,523.33 758.35,518.02 771.85,513.83 785.35,510 798.85,507.05 812.35,505.3 825.85,504.18 839.35,501.8 852.85,503.5 866.35,507.88 879.85,513.05 893.35,516.5 906.85,517.8 920.35,516.83 933.85,513.27 947.35,511.95 960.85,510.2 974.35,508.38 987.85,502.05 1001.35,497.3 1014.85,493.12 1028.35,489.93 1041.85,486.68 1055.35,485.23 1068.85,483.85 1082.35,478.73 1095.85,474 1109.35,468.3 1122.85,460.1 1136.35,448.15 1149.85,437.82 1163.35,423.7 1176.85,408.45 1190.35,394.25 1203.85,385.68 1217.35,381.35 1230.85,371.27 1244.35,366.27 1257.85,366.73 1271.35,371.3 1284.85,373.57 1298.35,382.82 1311.85,392.15 1325.35,400.85 1338.85,404.38 1352.35,402.95 1365.85,404.07 1379.35,400.2 1392.85,396.2 1406.35,386.38 1419.85,380.12 1433.35,372.88 1446.85,367.57 1460.35,360.82 1473.85,355.25 1487.35,350.7 1500.85,348.57 1514.35,350.7 1527.85,350.75 1541.35,354.9 1554.85,357.82 1568.35,354.62 1581.85,345.5 1595.35,331.32 1608.85,320.75 1622.35,310.73 1635.85,302.35 1649.35,285.55 1662.85,269.8 1676.35,254.4 1689.85,241.53 1703.35,231.35 1716.85,227.4 1730.35,231.78 1743.85,236.4 1757.35,241.68 1770.85,241.05 1784.35,241.5 1797.85,245.88 1811.35,246.95 1824.85,248 1838.35,248.57 1851.85,251.25 1865.35,249.55 1878.85,244.57 1892.35,238.2 1905.85,239.2 1919.35,245.88 1932.85,251.45 1946.35,267.88 1959.85,277 1973.35,285.1 1986.85,288.98 2000.35,296.52 2013.85,305.25 2027.35,315.48 2040.85,322.93 2054.35,329.88 2067.85,333.62 2081.35,330.1" fill="none" stroke="#0f6bcd" stroke-width="1.7" stroke-linejoin="round"/>
<polyline points="42.85,596.14 56.35,597.86 69.85,599.29 83.35,601.71 96.85,602.6 110.35,602.9 123.85,603.3 137.35,602.05 150.85,601.45 164.35,599.45 177.85,596.8 191.35,595.9 204.85,595.9 218.35,593.15 231.85,592.55 245.35,592.25 258.85,591 272.35,590.25 285.85,592.35 299.35,593.35 312.85,594.25 326.35,594.65 339.85,594.9 353.35,593.4 366.85,590.4 380.35,586.65 393.85,580.9 407.35,575.9 420.85,572.15 434.35,568.5 447.85,564.25 461.35,562.15 474.85,552.9 488.35,545.4 501.85,540.05 515.35,537.3 528.85,537.15 542.35,542.75 555.85,545.5 569.35,547.75 582.85,550.65 596.35,552 609.85,548.75 623.35,546.1 636.85,544.6 650.35,542.95 663.85,540.35 677.35,538.65 690.85,537.9 704.35,535.65 717.85,529.65 731.35,519.15 744.85,508 758.35,498.15 771.85,492 785.35,490.35 798.85,494.95 812.35,502.6 825.85,510.2 839.35,511.6 852.85,516.65 866.35,520.8 879.85,523.5 893.35,522.8 906.85,524 920.35,517 933.85,505.75 947.35,500.4 960.85,497.6 974.35,492.75 987.85,487.1 1001.35,488.85 1014.85,485.85 1028.35,482.25 1041.85,480.6 1055.35,483.35 1068.85,478.85 1082.35,471.6 1095.85,465.75 1109.35,456 1122.85,436.85 1136.35,417.45 1149.85,404.05 1163.35,381.65 1176.85,360.9 1190.35,351.65 1203.85,353.9 1217.35,358.65 1230.85,360.9 1244.35,371.65 1257.85,381.8 1271.35,388.7 1284.85,388.5 1298.35,404.75 1311.85,412.65 1325.35,419.9 1338.85,420.05 1352.35,417.4 1365.85,403.4 1379.35,387.75 1392.85,372.5 1406.35,352.7 1419.85,342.85 1433.35,342.35 1446.85,347.4 1460.35,349.15 1473.85,357.8 1487.35,358.55 1500.85,354.8 1514.35,354 1527.85,352.35 1541.35,352 1554.85,357.1 1568.35,354.45 1581.85,337 1595.35,310.3 1608.85,289.5 1622.35,264.35 1635.85,250.25 1649.35,234.1 1662.85,229.3 1676.35,219.3 1689.85,218.7 1703.35,212.45 1716.85,220.7 1730.35,234.25 1743.85,253.5 1757.35,264.65 1770.85,269.65 1784.35,262.3 1797.85,257.5 1811.35,240.4 1824.85,231.35 1838.35,227.5 1851.85,240.2 1865.35,241.6 1878.85,248.75 1892.35,245.05 1905.85,250.9 1919.35,251.55 1932.85,261.3 1946.35,287 1959.85,308.95 1973.35,319.3 1986.85,326.4 2000.35,331.75 2013.85,323.5 2027.35,322 2040.85,326.55 2054.35,333.35 2067.85,335.5 2081.35,336.7" fill="none" stroke="#ff9808" stroke-width="1.7" stroke-linejoin="round"/>
<g><rect x="37.65" y="845" width="10.4" height="5" fill="#009933"/><path d="M51.75 850 V846.95 H60.95 V850" fill="none" stroke="#dd2200" stroke-width="1.4"/><rect x="64.65" y="843.75" width="10.4" height="6.25" fill="#009933"/><rect x="78.15" y="845" width="10.4" height="5" fill="#009933"/><path d="M92.25 850 V844.45 H101.45 V850" fill="none" stroke="#dd2200" stroke-width="1.4"/><rect x="105.15" y="833.75" width="10.4" height="16.25" fill="#009933"/><path d="M119.25 850 V837.45 H128.45 V850" fill="none" stroke="#dd2200" stroke-width="1.4"/><path d="M132.75 850 V839.45 H141.95 V850" fill="none" stroke="#dd2200" stroke-width="1.4"/><rect x="145.65" y="845" width="10.4" height="5" fill="#009933"/><path d="M159.75 850 V845.7 H168.95 V850" fill="none" stroke="#dd2200" stroke-width="1.4"/><path d="M173.25 850 V838.2 H182.45 V850" fill="none" stroke="#dd2200" stroke-width="1.4"/><rect x="186.15" y="840" width="10.4" height="10" fill="#009933"/><rect x="199.65" y="843.25" width="10.4" height="6.75" fill="#009933"/><path d="M213.75 850 V843.2 H222.95 V850" fill="none" stroke="#dd2200" stroke-width="1.4"/><rect x="226.65" y="837.5" width="10.4" height="12.5" fill="#009933"/><path d="M240.75 850 V844.45 H249.95 V850" fill="none" stroke="#dd2200" stroke-width="1.4"/><path d="M254.25 850 V841.45 H263.45 V850" fill="none" stroke="#dd2200" stroke-width="1.4"/><rect x="267.15" y="833.75" width="10.4" height="16.25" fill="#009933"/><rect x="280.65" y="833.75" width="10.4" height="16.25" fill="#009933"/><path d="M294.75 850 V840.7 H303.95 V850" fill="none" stroke="#dd2200" stroke-width="1.4"/><path d="M308.25 850 V846.2 H317.45 V850" fill="none" stroke="#dd2200" stroke-width="1.4"/><path d="M321.75 850 V846.95 H330.95 V850" fill="none" stroke="#dd2200" stroke-width="1.4"/><rect x="334.65" y="845" width="10.4" height="5" fill="#009933"/><path d="M348.75 850 V840.2 H357.95 V850" fill="none" stroke="#dd2200" stroke-width="1.4"/><path d="M362.25 850 V840.2 H371.45 V850" fill="none" stroke="#dd2200" stroke-width="1.4"/><path d="M375.75 850 V844.45 H384.95 V850" fill="none" stroke="#dd2200" stroke-width="1.4"/><path d="M389.25 850 V840.7 H398.45 V850" fill="none" stroke="#dd2200" stroke-width="1.4"/><rect x="402.15" y="842.5" width="10.4" height="7.5" fill="#009933"/><rect x="415.65" y="836.75" width="10.4" height="13.25" fill="#009933"/><path d="M429.75 850 V841.45 H438.95 V850" fill="none" stroke="#dd2200" stroke-width="1.4"/><path d="M443.25 850 V841.45 H452.45 V850" fill="none" stroke="#dd2200" stroke-width="1.4"/><path d="M456.75 850 V843.2 H465.95 V850" fill="none" stroke="#dd2200" stroke-width="1.4"/><path d="M470.25 850 V840.2 H479.45 V850" fill="none" stroke="#dd2200" stroke-width="1.4"/><rect x="483.15" y="840" width="10.4" height="10" fill="#009933"/><path d="M497.25 850 V837.45 H506.45 V850" fill="none" stroke="#dd2200" stroke-width="1.4"/><rect x="510.15" y="839.5" width="10.4" height="10.5" fill="#009933"/><rect x="523.65" y="837.5" width="10.4" height="12.5" fill="#009933"/><rect x="537.15" y="839.5" width="10.4" height="10.5" fill="#009933"/><path d="M551.25 850 V838.7 H560.45 V850" fill="none" stroke="#dd2200" stroke-width="1.4"/><path d="M564.75 850 V838.7 H573.95 V850" fill="none" stroke="#dd2200" stroke-width="1.4"/><rect x="577.65" y="840.5" width="10.4" height="9.5" fill="#009933"/><rect x="591.15" y="834.25" width="10.4" height="15.75" fill="#009933"/><path d="M605.25 850 V825.2 H614.45 V850" fill="none" stroke="#dd2200" stroke-width="1.4"/><path d="M618.75 850 V832.2 H627.95 V850" fill="none" stroke="#dd2200" stroke-width="1.4"/><rect x="631.65" y="821.5" width="10.4" height="28.5" fill="#009933"/><rect x="645.15" y="816.5" width="10.4" height="33.5" fill="#009933"/><path d="M659.25 850 V792.2 H668.45 V850" fill="none" stroke="#dd2200" stroke-width="1.4"/><path d="M672.75 850 V762.2 H681.95 V850" fill="none" stroke="#dd2200" stroke-width="1.4"/><rect x="685.65" y="801.5" width="10.4" height="48.5" fill="#009933"/><path d="M699.75 850 V826.2 H708.95 V850" fill="none" stroke="#dd2200" stroke-width="1.4"/><path d="M713.25 850 V793.2 H722.45 V850" fill="none" stroke="#dd2200" stroke-width="1.4"/><path d="M726.75 850 V795.7 H735.95 V850" fill="none" stroke="#dd2200" stroke-width="1.4"/><path d="M740.25 850 V790.2 H749.45 V850" fill="none" stroke="#dd2200" stroke-width="1.4"/><rect x="753.15" y="702.5" width="10.4" height="147.5" fill="#009933"/><rect x="766.65" y="677" width="10.4" height="173" fill="#009933"/><rect x="780.15" y="768.25" width="10.4" height="81.75" fill="#009933"/><rect x="793.65" y="804.5" width="10.4" height="45.5" fill="#009933"/><rect x="807.15" y="789.5" width="10.4" height="60.5" fill="#009933"/><rect x="820.65" y="780.5" width="10.4" height="69.5" fill="#009933"/><path d="M834.75 850 V756.2 H843.95 V850" fill="none" stroke="#dd2200" stroke-width="1.4"/><rect x="847.65" y="804.5" width="10.4" height="45.5" fill="#009933"/><rect x="861.15" y="830.5" width="10.4" height="19.5" fill="#009933"/><path d="M875.25 850 V807.45 H884.45 V850" fill="none" stroke="#dd2200" stroke-width="1.4"/><path d="M888.75 850 V820.2 H897.95 V850" fill="none" stroke="#dd2200" stroke-width="1.4"/><path d="M902.25 850 V814.2 H911.45 V850" fill="none" stroke="#dd2200" stroke-width="1.4"/><path d="M915.75 850 V822.45 H924.95 V850" fill="none" stroke="#dd2200" stroke-width="1.4"/><path d="M929.25 850 V804.45 H938.45 V850" fill="none" stroke="#dd2200" stroke-width="1.4"/><rect x="942.15" y="809.5" width="10.4" height="40.5" fill="#009933"/><rect x="955.65" y="834.5" width="10.4" height="15.5" fill="#009933"/><path d="M969.75 850 V823.7 H978.95 V850" fill="none" stroke="#dd2200" stroke-width="1.4"/><path d="M983.25 850 V765.2 H992.45 V850" fill="none" stroke="#dd2200" stroke-width="1.4"/><rect x="996.15" y="789.5" width="10.4" height="60.5" fill="#009933"/><path d="M1010.25 850 V832.45 H1019.45 V850" fill="none" stroke="#dd2200" stroke-width="1.4"/><rect x="1023.15" y="816.5" width="10.4" height="33.5" fill="#009933"/><path d="M1037.25 850 V796.45 H1046.45 V850" fill="none" stroke="#dd2200" stroke-width="1.4"/><rect x="1050.15" y="818.5" width="10.4" height="31.5" fill="#009933"/><path d="M1064.25 850 V807.45 H1073.45 V850" fill="none" stroke="#dd2200" stroke-width="1.4"/><path d="M1077.75 850 V786.2 H1086.95 V850" fill="none" stroke="#dd2200" stroke-width="1.4"/><rect x="1090.65" y="804.5" width="10.4" height="45.5" fill="#009933"/><path d="M1104.75 850 V798.2 H1113.95 V850" fill="none" stroke="#dd2200" stroke-width="1.4"/><path d="M1118.25 850 V813.7 H1127.45 V850" fill="none" stroke="#dd2200" stroke-width="1.4"/><path d="M1131.75 850 V811.45 H1140.95 V850" fill="none" stroke="#dd2200" stroke-width="1.4"/><rect x="1144.65" y="774.5" width="10.4" height="75.5" fill="#009933"/><path d="M1158.75 850 V802.45 H1167.95 V850" fill="none" stroke="#dd2200" stroke-width="1.4"/><path d="M1172.25 850 V799.45 H1181.45 V850" fill="none" stroke="#dd2200" stroke-width="1.4"/><rect x="1185.15" y="813.5" width="10.4" height="36.5" fill="#009933"/><rect x="1198.65" y="780.5" width="10.4" height="69.5" fill="#009933"/><rect x="1212.15" y="797.5" width="10.4" height="52.5" fill="#009933"/><path d="M1226.25 850 V765.2 H1235.45 V850" fill="none" stroke="#dd2200" stroke-width="1.4"/><rect x="1239.15" y="795.75" width="10.4" height="54.25" fill="#009933"/><rect x="1252.65" y="806.75" width="10.4" height="43.25" fill="#009933"/><rect x="1266.15" y="803.5" width="10.4" height="46.5" fill="#009933"/><path d="M1280.25 850 V813.7 H1289.45 V850" fill="none" stroke="#dd2200" stroke-width="1.4"/><rect x="1293.15" y="804.5" width="10.4" height="45.5" fill="#009933"/><path d="M1307.25 850 V820.2 H1316.45 V850" fill="none" stroke="#dd2200" stroke-width="1.4"/><rect x="1320.15" y="825.5" width="10.4" height="24.5" fill="#009933"/><path d="M1334.25 850 V825.2 H1343.45 V850" fill="none" stroke="#dd2200" stroke-width="1.4"/><path d="M1347.75 850 V820.7 H1356.95 V850" fill="none" stroke="#dd2200" stroke-width="1.4"/><path d="M1361.25 850 V798.2 H1370.45 V850" fill="none" stroke="#dd2200" stroke-width="1.4"/><path d="M1374.75 850 V798.2 H1383.95 V850" fill="none" stroke="#dd2200" stroke-width="1.4"/><rect x="1387.65" y="804.5" width="10.4" height="45.5" fill="#009933"/><path d="M1401.75 850 V816.2 H1410.95 V850" fill="none" stroke="#dd2200" stroke-width="1.4"/><rect x="1414.65" y="810" width="10.4" height="40" fill="#009933"/><rect x="1428.15" y="788.5" width="10.4" height="61.5" fill="#009933"/><rect x="1441.65" y="807.5" width="10.4" height="42.5" fill="#009933"/><path d="M1455.75 850 V819.45 H1464.95 V850" fill="none" stroke="#dd2200" stroke-width="1.4"/><rect x="1468.65" y="815.5" width="10.4" height="34.5" fill="#009933"/><path d="M1482.75 850 V819.45 H1491.95 V850" fill="none" stroke="#dd2200" stroke-width="1.4"/><rect x="1495.65" y="822.5" width="10.4" height="27.5" fill="#009933"/><path d="M1509.75 850 V804.45 H1518.95 V850" fill="none" stroke="#dd2200" stroke-width="1.4"/><path d="M1523.25 850 V799.45 H1532.45 V850" fill="none" stroke="#dd2200" stroke-width="1.4"/><rect x="1536.15" y="803.5" width="10.4" height="46.5" fill="#009933"/><rect x="1549.65" y="807" width="10.4" height="43" fill="#009933"/><path d="M1563.75 850 V789.45 H1572.95 V850" fill="none" stroke="#dd2200" stroke-width="1.4"/><path d="M1577.25 850 V768.2 H1586.45 V850" fill="none" stroke="#dd2200" stroke-width="1.4"/><path d="M1590.75 850 V793.7 H1599.95 V850" fill="none" stroke="#dd2200" stroke-width="1.4"/><rect x="1603.65" y="804.5" width="10.4" height="45.5" fill="#009933"/><path d="M1617.75 850 V820.7 H1626.95 V850" fill="none" stroke="#dd2200" stroke-width="1.4"/><rect x="1630.65" y="804.5" width="10.4" height="45.5" fill="#009933"/><path d="M1644.75 850 V798.7 H1653.95 V850" fill="none" stroke="#dd2200" stroke-width="1.4"/><rect x="1657.65" y="777.25" width="10.4" height="72.75" fill="#009933"/><rect x="1671.15" y="801.5" width="10.4" height="48.5" fill="#009933"/><rect x="1684.65" y="806.5" width="10.4" height="43.5" fill="#009933"/><path d="M1698.75 850 V811.45 H1707.95 V850" fill="none" stroke="#dd2200" stroke-width="1.4"/><rect x="1711.65" y="804.5" width="10.4" height="45.5" fill="#009933"/><rect x="1725.15" y="791.5" width="10.4" height="58.5" fill="#009933"/><rect x="1738.65" y="797.5" width="10.4" height="52.5" fill="#009933"/><path d="M1752.75 850 V799.45 H1761.95 V850" fill="none" stroke="#dd2200" stroke-width="1.4"/><path d="M1766.25 850 V795.7 H1775.45 V850" fill="none" stroke="#dd2200" stroke-width="1.4"/><path d="M1779.75 850 V801.95 H1788.95 V850" fill="none" stroke="#dd2200" stroke-width="1.4"/><rect x="1792.65" y="788.5" width="10.4" height="61.5" fill="#009933"/><path d="M1806.75 850 V802.45 H1815.95 V850" fill="none" stroke="#dd2200" stroke-width="1.4"/><rect x="1819.65" y="816.5" width="10.4" height="33.5" fill="#009933"/><path d="M1833.75 850 V831.45 H1842.95 V850" fill="none" stroke="#dd2200" stroke-width="1.4"/><rect x="1846.65" y="810.5" width="10.4" height="39.5" fill="#009933"/><path d="M1860.75 850 V820.7 H1869.95 V850" fill="none" stroke="#dd2200" stroke-width="1.4"/><rect x="1873.65" y="819.5" width="10.4" height="30.5" fill="#009933"/><path d="M1887.75 850 V801.45 H1896.95 V850" fill="none" stroke="#dd2200" stroke-width="1.4"/><rect x="1900.65" y="811.5" width="10.4" height="38.5" fill="#009933"/><rect x="1914.15" y="824.5" width="10.4" height="25.5" fill="#009933"/><rect x="1927.65" y="819.5" width="10.4" height="30.5" fill="#009933"/><rect x="1941.15" y="816.5" width="10.4" height="33.5" fill="#009933"/><path d="M1955.25 850 V808.45 H1964.45 V850" fill="none" stroke="#dd2200" stroke-width="1.4"/><path d="M1968.75 850 V814.95 H1977.95 V850" fill="none" stroke="#dd2200" stroke-width="1.4"/><path d="M1982.25 850 V822.45 H1991.45 V850" fill="none" stroke="#dd2200" stroke-width="1.4"/><rect x="1995.15" y="824.5" width="10.4" height="25.5" fill="#009933"/><rect x="2008.65" y="822.5" width="10.4" height="27.5" fill="#009933"/><path d="M2022.75 850 V816.95 H2031.95 V850" fill="none" stroke="#dd2200" stroke-width="1.4"/><rect x="2035.65" y="821.75" width="10.4" height="28.25" fill="#009933"/><path d="M2049.75 850 V831.45 H2058.95 V850" fill="none" stroke="#dd2200" stroke-width="1.4"/><path d="M2063.25 850 V820.7 H2072.45 V850" fill="none" stroke="#dd2200" stroke-width="1.4"/><rect x="2076.15" y="839" width="10.4" height="11" fill="#009933"/></g>
<polyline points="42.85,843.2 56.35,843.52 69.85,843.6 83.35,843.8 96.85,843.88 110.35,842.95 123.85,842.33 137.35,841.9 150.85,842.1 164.35,842.3 177.85,841.55 191.35,840.92 204.85,840.88 218.35,840.62 231.85,840 245.35,841 258.85,841.4 272.35,840.9 285.85,839.77 299.35,839.27 312.85,840.08 326.35,840.7 339.85,840.88 353.35,840.58 366.85,840.77 380.35,840.77 393.85,840.7 407.35,841.58 420.85,841.88 434.35,841.95 447.85,841.48 461.35,841.1 474.85,840.55 488.35,840.6 501.85,840.33 515.35,839.9 528.85,839.65 542.35,839.35 555.85,839.48 569.35,839.2 582.85,839.17 596.35,838.35 609.85,836.85 623.35,836 636.85,834.48 650.35,832.17 663.85,827.58 677.35,819.77 690.85,816.12 704.35,814.88 717.85,810.08 731.35,806.15 744.85,802.65 758.35,789.75 771.85,775.3 785.35,770.48 798.85,771.77 812.35,774.58 825.85,772.48 839.35,765.48 852.85,766.67 866.35,770.23 879.85,771.95 893.35,783.65 906.85,797.3 920.35,802.65 933.85,802.58 947.35,804.58 960.85,809.98 974.35,816.73 987.85,812.73 1001.35,808.62 1014.85,811.12 1028.35,810.83 1041.85,809.05 1055.35,808.73 1068.85,809.02 1082.35,806.62 1095.85,803.62 1109.35,801.08 1122.85,805.92 1136.35,808.05 1149.85,802.33 1163.35,800.85 1176.85,801.15 1190.35,800.65 1203.85,798.02 1217.35,799.23 1230.85,795.23 1244.35,795.05 1257.85,794.42 1271.35,793.7 1284.85,797.55 1298.35,797.83 1311.85,799.9 1325.35,801.1 1338.85,805.5 1352.35,807.75 1365.85,811.05 1379.35,811.23 1392.85,811 1406.35,812.2 1419.85,811.9 1433.35,810.3 1446.85,809.1 1460.35,808.42 1473.85,807.52 1487.35,807.4 1500.85,809.9 1514.35,810.52 1527.85,809.95 1541.35,808.75 1554.85,808.45 1568.35,808.48 1581.85,804.48 1595.35,801.9 1608.85,800.8 1622.35,800.92 1635.85,799.12 1649.35,798.55 1662.85,796.4 1676.35,796.2 1689.85,796.15 1703.35,798.35 1716.85,802.05 1730.35,801.9 1743.85,801.2 1757.35,799.08 1770.85,798.12 1784.35,798.45 1797.85,799.58 1811.35,799.6 1824.85,800.6 1838.35,802.6 1851.85,803.2 1865.35,806.05 1878.85,808.25 1892.35,808.45 1905.85,810.1 1919.35,812.42 1932.85,815.52 1946.35,817 1959.85,816.12 1973.35,814.48 1986.85,815.6 2000.35,816.05 2013.85,816.35 2027.35,817.9 2040.85,818.92 2054.35,819.55 2067.85,819.6 2081.35,821.85" fill="none" stroke="#0f6bcd" stroke-width="1.7" stroke-linejoin="round"/>
<polyline points="42.85,843.4 56.35,844.05 69.85,844.2 83.35,844.6 96.85,844.75 110.35,842.5 123.85,840.6 137.35,839.6 150.85,839.6 164.35,839.85 177.85,840.6 191.35,841.25 204.85,842.15 218.35,841.65 231.85,840.15 245.35,841.4 258.85,841.55 272.35,839.65 285.85,837.9 299.35,838.4 312.85,838.75 326.35,839.85 339.85,842.1 353.35,843.25 366.85,843.15 380.35,842.8 393.85,841.55 407.35,841.05 420.85,840.5 434.35,840.75 447.85,840.15 461.35,840.65 474.85,840.05 488.35,840.7 501.85,839.9 515.35,839.65 528.85,838.65 542.35,838.65 555.85,838.25 569.35,838.5 582.85,838.7 596.35,838.05 609.85,835.05 623.35,833.75 636.85,830.45 650.35,825.65 663.85,817.1 677.35,804.5 690.85,798.5 704.35,799.3 717.85,794.5 731.35,795.2 744.85,800.8 758.35,781 771.85,751.3 785.35,746.45 798.85,748.35 812.35,748.35 825.85,763.95 839.35,779.65 852.85,786.9 866.35,792.1 879.85,795.55 893.35,803.35 906.85,814.95 920.35,818.4 933.85,813.05 947.35,813.6 960.85,816.6 974.35,818.5 987.85,807.05 1001.35,804.2 1014.85,808.65 1028.35,805.05 1041.85,799.6 1055.35,810.4 1068.85,813.85 1082.35,804.6 1095.85,802.2 1109.35,802.55 1122.85,801.45 1136.35,802.25 1149.85,800.05 1163.35,799.5 1176.85,799.75 1190.35,799.85 1203.85,793.8 1217.35,798.4 1230.85,790.95 1244.35,790.35 1257.85,789 1271.35,793.6 1284.85,796.7 1298.35,804.7 1311.85,809.45 1325.35,813.2 1338.85,817.4 1352.35,818.8 1365.85,817.4 1379.35,813 1392.85,808.8 1406.35,807 1419.85,805 1433.35,803.2 1446.85,805.2 1460.35,808.05 1473.85,808.05 1487.35,809.8 1500.85,816.6 1514.35,815.85 1527.85,811.85 1541.35,809.45 1554.85,807.1 1568.35,800.35 1581.85,793.1 1595.35,791.95 1608.85,792.15 1622.35,794.75 1635.85,797.9 1649.35,804 1662.85,800.85 1676.35,800.25 1689.85,797.55 1703.35,798.8 1716.85,800.1 1730.35,802.95 1743.85,802.15 1757.35,800.6 1770.85,797.45 1784.35,796.8 1797.85,796.2 1811.35,797.05 1824.85,800.6 1838.35,807.75 1851.85,809.6 1865.35,815.9 1878.85,819.45 1892.35,816.3 1905.85,812.45 1919.35,815.25 1932.85,815.15 1946.35,814.55 1959.85,815.95 1973.35,816.5 1986.85,815.95 2000.35,816.95 2013.85,818.15 2027.35,819.85 2040.85,821.35 2054.35,823.15 2067.85,822.25 2081.35,825.55" fill="none" stroke="#ff9808" stroke-width="1.7" stroke-linejoin="round"/>
<polyline points="42.85,899.25 56.35,880 69.85,914.5 83.35,918.75 96.85,913 110.35,1013.75 123.85,992.5 137.35,981.75 150.85,1038.75 164.35,1019.5 177.85,1011.75 191.35,1024.25 204.85,1037 218.35,1020.75 231.85,1027 245.35,1045 258.85,1042 272.35,1054.25 285.85,1043.75 299.35,1034.5 312.85,1026.75 326.35,1023.75 339.85,1037 353.35,1019.5 366.85,963.75 380.35,948.75 393.85,915.75 407.35,945.75 420.85,955 434.35,909.25 447.85,977.5 461.35,974.25 474.85,935.5 488.35,953.25 501.85,956.5 515.35,985 528.85,1003 542.35,1004.25 555.85,1026.75 569.35,1022.5 582.85,1034.25 596.35,1037 609.85,1010.5 623.35,1010.5 636.85,1031.75 650.35,1042 663.85,1039.25 677.35,1013.5 690.85,1020.75 704.35,1016.25 717.85,1010.5 731.35,982 744.85,960.75 758.35,980 771.85,997 785.35,1008.75 798.85,1006 812.35,1000 825.85,1013.25 839.35,1012 852.85,1042 866.35,1045 879.85,1035.75 893.35,1032.5 906.85,1028.25 920.35,1027 933.85,1010.5 947.35,1025.5 960.85,1031.25 974.35,1020.75 987.85,1005.75 1001.35,1024 1014.85,1025.5 1028.35,1027 1041.85,1025.5 1055.35,1030 1068.85,1021.25 1082.35,1004.5 1095.85,1010.5 1109.35,990.75 1122.85,958 1136.35,956.5 1149.85,964 1163.35,938.75 1176.85,915.75 1190.35,928 1203.85,957.5 1217.35,985 1230.85,951.75 1244.35,974.5 1257.85,976 1271.35,992.25 1284.85,980.25 1298.35,1009 1311.85,995.5 1325.35,1003 1338.85,1001.5 1352.35,982 1365.85,967 1379.35,961 1392.85,967 1406.35,942.75 1419.85,964 1433.35,980.25 1446.85,988 1460.35,985 1473.85,983.5 1487.35,970 1500.85,971.5 1514.35,983.5 1527.85,939.75 1541.35,944.25 1554.85,950.5 1568.35,968.5 1581.85,931.25 1595.35,897.5 1608.85,934 1622.35,926.25 1635.85,938.5 1649.35,888.75 1662.85,890.25 1676.35,896.25 1689.85,965.5 1703.35,960.75 1716.85,962.5 1730.35,979 1743.85,997 1757.35,994 1770.85,982 1784.35,956.25 1797.85,974.5 1811.35,945.75 1824.85,964 1838.35,956.5 1851.85,985 1865.35,977.5 1878.85,979 1892.35,974.5 1905.85,991 1919.35,992.5 1932.85,1006 1946.35,1034.5 1959.85,1016.25 1973.35,1005 1986.85,995.5 2000.35,1007.25 2013.85,1015 2027.35,1024 2040.85,1028.5 2054.35,1030 2067.85,1028.5 2081.35,1034.25" fill="none" stroke="#0f6bcd" stroke-width="1.6" stroke-linejoin="round"/>
<path d="M2081.3 94 V644.5 M2081.3 676.5 V850.5 M2081.3 880 V1052" stroke="#333" stroke-width="1.5" stroke-dasharray="3 4.5" fill="none"/>
<path d="M38 1042.9 H2090" stroke="#858585" stroke-width="1.7" stroke-dasharray="3.2 4.3" fill="none"/>
<rect x="38" y="1031" width="47" height="25" fill="#ebebeb"/>
<rect x="1995.5" y="1056" width="94.5" height="24.5" fill="#ebebeb"/>
<text x="38" y="107" font-size="17.5" fill="#666" text-anchor="start" textLength="43.5" lengthAdjust="spacingAndGlyphs" font-family="'Liberation Sans','Noto Sans CJK SC',sans-serif">49.79</text>
<text x="38" y="190.8" font-size="17.5" fill="#666" text-anchor="start" textLength="43.5" lengthAdjust="spacingAndGlyphs" font-family="'Liberation Sans','Noto Sans CJK SC',sans-serif">41.61</text>
<text x="38" y="281.8" font-size="17.5" fill="#666" text-anchor="start" textLength="43.5" lengthAdjust="spacingAndGlyphs" font-family="'Liberation Sans','Noto Sans CJK SC',sans-serif">33.44</text>
<text x="38" y="374.3" font-size="17.5" fill="#666" text-anchor="start" textLength="43.5" lengthAdjust="spacingAndGlyphs" font-family="'Liberation Sans','Noto Sans CJK SC',sans-serif">25.26</text>
<text x="38" y="465.8" font-size="17.5" fill="#666" text-anchor="start" textLength="43.5" lengthAdjust="spacingAndGlyphs" font-family="'Liberation Sans','Noto Sans CJK SC',sans-serif">17.08</text>
<text x="38" y="558.8" font-size="17.5" fill="#666" text-anchor="start" textLength="34" lengthAdjust="spacingAndGlyphs" font-family="'Liberation Sans','Noto Sans CJK SC',sans-serif">8.91</text>
<text x="38" y="642.5" font-size="17.5" fill="#666" text-anchor="start" textLength="34" lengthAdjust="spacingAndGlyphs" font-family="'Liberation Sans','Noto Sans CJK SC',sans-serif">0.73</text>
<text x="38" y="689" font-size="17.5" fill="#666" text-anchor="start" textLength="78.5" lengthAdjust="spacingAndGlyphs" font-family="'Liberation Sans','Noto Sans CJK SC',sans-serif">4387.50万</text>
<text x="38" y="767" font-size="17.5" fill="#666" text-anchor="start" textLength="78.5" lengthAdjust="spacingAndGlyphs" font-family="'Liberation Sans','Noto Sans CJK SC',sans-serif">2193.75万</text>
<text x="38" y="845" font-size="17.5" fill="#666" text-anchor="start" textLength="34" lengthAdjust="spacingAndGlyphs" font-family="'Liberation Sans','Noto Sans CJK SC',sans-serif">0.00</text>
<text x="38" y="892" font-size="17.5" fill="#666" text-anchor="start" textLength="43.5" lengthAdjust="spacingAndGlyphs" font-family="'Liberation Sans','Noto Sans CJK SC',sans-serif">39.45</text>
<text x="38" y="971.4" font-size="17.5" fill="#666" text-anchor="start" textLength="43.5" lengthAdjust="spacingAndGlyphs" font-family="'Liberation Sans','Noto Sans CJK SC',sans-serif">27.65</text>
<text x="39.5" y="1048" font-size="17.5" fill="#333" text-anchor="start" textLength="43.5" lengthAdjust="spacingAndGlyphs" font-family="'Liberation Sans','Noto Sans CJK SC',sans-serif">17.28</text>
<text x="177.35" y="1073" font-size="17.5" fill="#666" text-anchor="middle" textLength="65.5" lengthAdjust="spacingAndGlyphs" font-family="'Liberation Sans','Noto Sans CJK SC',sans-serif">2011-11</text>
<text x="312.35" y="1073" font-size="17.5" fill="#666" text-anchor="middle" textLength="65.5" lengthAdjust="spacingAndGlyphs" font-family="'Liberation Sans','Noto Sans CJK SC',sans-serif">2012-09</text>
<text x="447.35" y="1073" font-size="17.5" fill="#666" text-anchor="middle" textLength="65.5" lengthAdjust="spacingAndGlyphs" font-family="'Liberation Sans','Noto Sans CJK SC',sans-serif">2013-07</text>
<text x="582.35" y="1073" font-size="17.5" fill="#666" text-anchor="middle" textLength="65.5" lengthAdjust="spacingAndGlyphs" font-family="'Liberation Sans','Noto Sans CJK SC',sans-serif">2014-05</text>
<text x="717.35" y="1073" font-size="17.5" fill="#666" text-anchor="middle" textLength="65.5" lengthAdjust="spacingAndGlyphs" font-family="'Liberation Sans','Noto Sans CJK SC',sans-serif">2015-03</text>
<text x="852.35" y="1073" font-size="17.5" fill="#666" text-anchor="middle" textLength="65.5" lengthAdjust="spacingAndGlyphs" font-family="'Liberation Sans','Noto Sans CJK SC',sans-serif">2016-01</text>
<text x="987.35" y="1073" font-size="17.5" fill="#666" text-anchor="middle" textLength="65.5" lengthAdjust="spacingAndGlyphs" font-family="'Liberation Sans','Noto Sans CJK SC',sans-serif">2016-11</text>
<text x="1122.35" y="1073" font-size="17.5" fill="#666" text-anchor="middle" textLength="65.5" lengthAdjust="spacingAndGlyphs" font-family="'Liberation Sans','Noto Sans CJK SC',sans-serif">2017-09</text>
<text x="1257.35" y="1073" font-size="17.5" fill="#666" text-anchor="middle" textLength="65.5" lengthAdjust="spacingAndGlyphs" font-family="'Liberation Sans','Noto Sans CJK SC',sans-serif">2018-07</text>
<text x="1392.35" y="1073" font-size="17.5" fill="#666" text-anchor="middle" textLength="65.5" lengthAdjust="spacingAndGlyphs" font-family="'Liberation Sans','Noto Sans CJK SC',sans-serif">2019-05</text>
<text x="1527.35" y="1073" font-size="17.5" fill="#666" text-anchor="middle" textLength="65.5" lengthAdjust="spacingAndGlyphs" font-family="'Liberation Sans','Noto Sans CJK SC',sans-serif">2020-03</text>
<text x="1662.35" y="1073" font-size="17.5" fill="#666" text-anchor="middle" textLength="65.5" lengthAdjust="spacingAndGlyphs" font-family="'Liberation Sans','Noto Sans CJK SC',sans-serif">2021-01</text>
<text x="1797.35" y="1073" font-size="17.5" fill="#666" text-anchor="middle" textLength="65.5" lengthAdjust="spacingAndGlyphs" font-family="'Liberation Sans','Noto Sans CJK SC',sans-serif">2021-11</text>
<text x="1932.35" y="1073" font-size="17.5" fill="#666" text-anchor="middle" textLength="65.5" lengthAdjust="spacingAndGlyphs" font-family="'Liberation Sans','Noto Sans CJK SC',sans-serif">2022-09</text>
<text x="2043.8" y="1073.2" font-size="17.5" fill="#333" text-anchor="middle" textLength="91" lengthAdjust="spacingAndGlyphs" font-family="'Liberation Sans','Noto Sans CJK SC',sans-serif">2023-08-11</text>
<rect x="0" y="1" width="2098" height="2" fill="#dcdcdc"/>
<rect x="38.5" y="18.5" width="2051.5" height="44" fill="#fff" stroke="#e6e8f0" stroke-width="1"/>
<text x="47.1" y="47.8" font-size="20" fill="#666" text-anchor="start" textLength="40.4" lengthAdjust="spacingAndGlyphs" >分时</text>
<text x="103.2" y="47.8" font-size="20" fill="#666" text-anchor="start" textLength="40.3" lengthAdjust="spacingAndGlyphs" >五日</text>
<text x="161.2" y="47.8" font-size="20" fill="#666" text-anchor="start" textLength="33.8" lengthAdjust="spacingAndGlyphs" >日K</text>
<text x="210.2" y="47.8" font-size="20" fill="#666" text-anchor="start" textLength="34.8" lengthAdjust="spacingAndGlyphs" >周K</text>
<text x="261.2" y="47.8" font-size="20" fill="#166dce" text-anchor="start" textLength="34.8" lengthAdjust="spacingAndGlyphs" >月K</text>
<text x="311.8" y="47.8" font-size="20" fill="#666" text-anchor="start" textLength="34.4" lengthAdjust="spacingAndGlyphs" >季K</text>
<text x="363.2" y="47.8" font-size="20" fill="#666" text-anchor="start" textLength="33.8" lengthAdjust="spacingAndGlyphs" >年K</text>
<text x="414.5" y="47.8" font-size="20" fill="#666" text-anchor="start" textLength="52.5" lengthAdjust="spacingAndGlyphs" >120分</text>
<text x="483.8" y="47.8" font-size="20" fill="#666" text-anchor="start" textLength="42.5" lengthAdjust="spacingAndGlyphs" >60分</text>
<text x="543.2" y="47.8" font-size="20" fill="#666" text-anchor="start" textLength="42.1" lengthAdjust="spacingAndGlyphs" >30分</text>
<text x="602.7" y="47.8" font-size="20" fill="#666" text-anchor="start" textLength="42.3" lengthAdjust="spacingAndGlyphs" >15分</text>
<text x="661.5" y="47.8" font-size="20" fill="#666" text-anchor="start" textLength="32" lengthAdjust="spacingAndGlyphs" >5分</text>
<text x="711.2" y="47.8" font-size="20" fill="#666" text-anchor="start" textLength="30.1" lengthAdjust="spacingAndGlyphs" >1分</text>
<rect x="261" y="58" width="34.7" height="3" fill="#166dce"/>
<text x="1906" y="48.5" font-size="19.5" fill="#166dce" text-anchor="start" textLength="79" lengthAdjust="spacingAndGlyphs" >区间统计</text>
<text x="2001.5" y="48.5" font-size="19.5" fill="#166dce" text-anchor="start" textLength="80" lengthAdjust="spacingAndGlyphs" >退出全屏</text>
<text x="38.3" y="80.8" font-size="17" fill="#666" text-anchor="start" textLength="34" lengthAdjust="spacingAndGlyphs" >均线</text>
<text x="90.7" y="80.8" font-size="17.5" fill="#ff9808" text-anchor="start" textLength="84.7" lengthAdjust="spacingAndGlyphs" >MA5:28.16</text>
<text x="181.7" y="80.8" font-size="17.5" fill="#166dce" text-anchor="start" textLength="94.8" lengthAdjust="spacingAndGlyphs" >MA10:28.75</text>
<text x="282.7" y="80.8" font-size="17.5" fill="#dd18ae" text-anchor="start" textLength="94.8" lengthAdjust="spacingAndGlyphs" >MA20:31.50</text>
<text x="383.7" y="80.8" font-size="17.5" fill="#ff6835" text-anchor="start" textLength="94.8" lengthAdjust="spacingAndGlyphs" >MA30:33.06</text>
<text x="484.7" y="80.8" font-size="17.5" fill="#3acd8c" text-anchor="start" textLength="94.8" lengthAdjust="spacingAndGlyphs" >MA60:30.84</text>
<circle cx="1822.75" cy="79.6" r="10.5" fill="#e9e9e9"/>
<circle cx="1858.75" cy="79.6" r="10.5" fill="#e9e9e9"/>
<circle cx="1894.75" cy="79.6" r="10.5" fill="#e9e9e9"/>
<circle cx="1930.75" cy="79.6" r="10.5" fill="#e9e9e9"/>
<circle cx="1966.75" cy="79.6" r="10.5" fill="#e9e9e9"/>
<circle cx="2002.75" cy="79.6" r="10.5" fill="#e9e9e9"/>
<path d="M1818 76 H1825 A3.7 3.7 0 0 1 1825 83.4 H1817.5 M1820 74 L1817.6 76 L1820 78" stroke="#5c6673" stroke-width="1.6" fill="none" stroke-linecap="round" stroke-linejoin="round" transform="translate(0,-0.4)"/>
<path d="M1853.5 80 H1864 M1858.75 74.8 V85.2" stroke="#5c6673" stroke-width="1.6" fill="none" stroke-linecap="round" stroke-linejoin="round" transform="translate(0,-0.4)"/>
<path d="M1889.5 80 H1900" stroke="#5c6673" stroke-width="1.6" fill="none" stroke-linecap="round" stroke-linejoin="round" transform="translate(0,-0.4)"/>
<path d="M1932.8 75.5 L1928.5 80 L1932.8 84.5" stroke="#5c6673" stroke-width="1.6" fill="none" stroke-linecap="round" stroke-linejoin="round" transform="translate(0,-0.4)"/>
<path d="M1964.8 75.5 L1969 80 L1964.8 84.5" stroke="#5c6673" stroke-width="1.6" fill="none" stroke-linecap="round" stroke-linejoin="round" transform="translate(0,-0.4)"/>
<path d="M2002.75 71.5 V88.5" stroke="#5c6673" stroke-width="1.6" fill="none" stroke-linecap="round" stroke-linejoin="round" transform="translate(0,-0.4)"/><rect x="1999.5" y="74" width="6.5" height="10.5" fill="#e9e9e9" stroke="#5c6673" stroke-width="1.6"/>
<text x="2027.3" y="85.5" font-size="18" fill="#333" text-anchor="start" textLength="55" lengthAdjust="spacingAndGlyphs" >前复权</text>
<text x="38.2" y="664.9" font-size="17.3" fill="#666" text-anchor="start" textLength="140.5" lengthAdjust="spacingAndGlyphs" >成交量 265.89万手</text>
<text x="197.3" y="664.9" font-size="17.3" fill="#ff9808" text-anchor="start" textLength="126.5" lengthAdjust="spacingAndGlyphs" >MA5:643.49万手</text>
<text x="331.3" y="664.9" font-size="17.3" fill="#166dce" text-anchor="start" textLength="137" lengthAdjust="spacingAndGlyphs" >MA10:732.54万手</text>
<text x="38.2" y="869.5" font-size="17.3" fill="#666" text-anchor="start" textLength="19.5" lengthAdjust="spacingAndGlyphs" >PE</text>
<text x="76" y="869.5" font-size="17.3" fill="#166dce" text-anchor="start" textLength="47.5" lengthAdjust="spacingAndGlyphs" >:18.38</text>
<circle cx="2073" cy="659" r="8.7" fill="#e9e9e9"/><path d="M2069.6 655.6 L2076.4 662.4 M2076.4 655.6 L2069.6 662.4" stroke="#5c6673" stroke-width="1.25" stroke-linecap="round" fill="none"/>
<circle cx="2073" cy="862" r="8.7" fill="#e9e9e9"/><path d="M2069.6 859.3 L2076.4 866.1 M2076.4 859.3 L2069.6 866.1" stroke="#5c6673" stroke-width="1.25" stroke-linecap="round" fill="none"/>
<rect x="85.5" y="93.5" width="179" height="285" fill="#fff" fill-opacity="0.93" stroke="#e6e8ee" stroke-width="1"/>
<text x="93.3" y="121.2" font-size="18" fill="#333" text-anchor="start" textLength="36.4" lengthAdjust="spacingAndGlyphs" >时间</text>
<text x="165.2" y="121.3" font-size="17.5" fill="#333" text-anchor="start" textLength="91.1" lengthAdjust="spacingAndGlyphs" >2023-08-11</text>
<text x="93.3" y="148.2" font-size="18" fill="#333" text-anchor="start" textLength="54.6" lengthAdjust="spacingAndGlyphs" >开盘价</text>
<text x="211.2" y="148.3" font-size="17.5" fill="#009933" text-anchor="start" textLength="45.6" lengthAdjust="spacingAndGlyphs" >28.60</text>
<text x="93.3" y="175.2" font-size="18" fill="#333" text-anchor="start" textLength="54.6" lengthAdjust="spacingAndGlyphs" >最高价</text>
<text x="211.2" y="175.3" font-size="17.5" fill="#dd2200" text-anchor="start" textLength="45.6" lengthAdjust="spacingAndGlyphs" >28.86</text>
<text x="93.3" y="202.2" font-size="18" fill="#333" text-anchor="start" textLength="54.6" lengthAdjust="spacingAndGlyphs" >最低价</text>
<text x="211.2" y="202.3" font-size="17.5" fill="#009933" text-anchor="start" textLength="45.6" lengthAdjust="spacingAndGlyphs" >27.50</text>
<text x="93.3" y="229.2" font-size="18" fill="#333" text-anchor="start" textLength="54.6" lengthAdjust="spacingAndGlyphs" >收盘价</text>
<text x="211.2" y="229.3" font-size="17.5" fill="#009933" text-anchor="start" textLength="45.6" lengthAdjust="spacingAndGlyphs" >27.50</text>
<text x="93.3" y="256.2" font-size="18" fill="#333" text-anchor="start" textLength="54.6" lengthAdjust="spacingAndGlyphs" >涨跌额</text>
<text x="215.2" y="256.3" font-size="17.5" fill="#009933" text-anchor="start" textLength="41.6" lengthAdjust="spacingAndGlyphs" >-1.16</text>
<text x="93.3" y="283.2" font-size="18" fill="#333" text-anchor="start" textLength="54.6" lengthAdjust="spacingAndGlyphs" >涨跌幅</text>
<text x="199.2" y="283.3" font-size="17.5" fill="#009933" text-anchor="start" textLength="57.6" lengthAdjust="spacingAndGlyphs" >-4.05%</text>
<text x="93.3" y="310.2" font-size="18" fill="#333" text-anchor="start" textLength="54.6" lengthAdjust="spacingAndGlyphs" >成交量</text>
<text x="164.7" y="310.3" font-size="17.5" fill="#333" text-anchor="start" textLength="92.1" lengthAdjust="spacingAndGlyphs" >265.89万手</text>
<text x="93.3" y="337.2" font-size="18" fill="#333" text-anchor="start" textLength="54.6" lengthAdjust="spacingAndGlyphs" >成交额</text>
<text x="193.2" y="337.3" font-size="17.5" fill="#333" text-anchor="start" textLength="63.6" lengthAdjust="spacingAndGlyphs" >74.88亿</text>
<text x="93.3" y="364.2" font-size="18" fill="#333" text-anchor="start" textLength="54.6" lengthAdjust="spacingAndGlyphs" >换手率</text>
<text x="204.7" y="364.3" font-size="17.5" fill="#333" text-anchor="start" textLength="51.6" lengthAdjust="spacingAndGlyphs" >4.24%</text>
<rect x="38.5" y="1094.5" width="2051.5" height="44" fill="#fff" stroke="#e6e8f0" stroke-width="1"/>
<path d="M166.5 1094 V1138.5" stroke="#e6e8f0" stroke-width="1"/>
<text x="49.5" y="1124.3" font-size="19.6" fill="#166dce" text-anchor="start" textLength="31.5" lengthAdjust="spacingAndGlyphs" >MA</text>
<text x="103" y="1124.3" font-size="19.6" fill="#666" text-anchor="start" textLength="51" lengthAdjust="spacingAndGlyphs" >BOLL</text>
<text x="177.5" y="1124.8" font-size="20" fill="#166dce" text-anchor="start" textLength="61.5" lengthAdjust="spacingAndGlyphs" >成交量</text>
<text x="260.5" y="1124.3" font-size="19.6" fill="#666" text-anchor="start" textLength="58.5" lengthAdjust="spacingAndGlyphs" >MACD</text>
<text x="341.5" y="1124.3" font-size="19.6" fill="#666" text-anchor="start" textLength="38.5" lengthAdjust="spacingAndGlyphs" >KDJ</text>
<text x="402.5" y="1124.3" font-size="19.6" fill="#166dce" text-anchor="start" textLength="27" lengthAdjust="spacingAndGlyphs" >PE</text>
<text x="452.5" y="1124.3" font-size="19.6" fill="#666" text-anchor="start" textLength="27.5" lengthAdjust="spacingAndGlyphs" >PB</text>
<text x="502.5" y="1124.3" font-size="19.6" fill="#666" text-anchor="start" textLength="27.5" lengthAdjust="spacingAndGlyphs" >PS</text>
<text x="552.5" y="1124.3" font-size="19.6" fill="#666" text-anchor="start" textLength="40.5" lengthAdjust="spacingAndGlyphs" >PCF</text>
<text x="614.5" y="1124.8" font-size="20" fill="#666" text-anchor="start" textLength="61.5" lengthAdjust="spacingAndGlyphs" >总市值</text>
<text x="697.5" y="1124.8" font-size="20" fill="#666" text-anchor="start" textLength="99.5" lengthAdjust="spacingAndGlyphs" >陆股通持股</text>
<text x="818.5" y="1124.8" font-size="20" fill="#666" text-anchor="start" textLength="81" lengthAdjust="spacingAndGlyphs" >两融差额</text>
<text x="921" y="1124.3" font-size="19.6" fill="#666" text-anchor="start" textLength="34" lengthAdjust="spacingAndGlyphs" >WR</text>
<text x="977" y="1124.3" font-size="19.6" fill="#666" text-anchor="start" textLength="34.5" lengthAdjust="spacingAndGlyphs" >RSI</text>
<text x="1034" y="1124.3" font-size="19.6" fill="#666" text-anchor="start" textLength="46.5" lengthAdjust="spacingAndGlyphs" >BIAS</text>
<text x="1103" y="1124.3" font-size="19.6" fill="#666" text-anchor="start" textLength="35.5" lengthAdjust="spacingAndGlyphs" >CCI</text>
<text x="1160.5" y="1124.3" font-size="19.6" fill="#666" text-anchor="start" textLength="41" lengthAdjust="spacingAndGlyphs" >PSY</text>
<text x="1811" y="1141" font-size="19" fill="#999" text-anchor="start" textLength="71.5" lengthAdjust="spacingAndGlyphs" >CSDN @</text>
<text x="1883" y="1141" font-size="19.8" fill="#999" text-anchor="start" textLength="200" lengthAdjust="spacingAndGlyphs" >黄土高坡上的独孤前辈</text>
</svg>
</body></html>
